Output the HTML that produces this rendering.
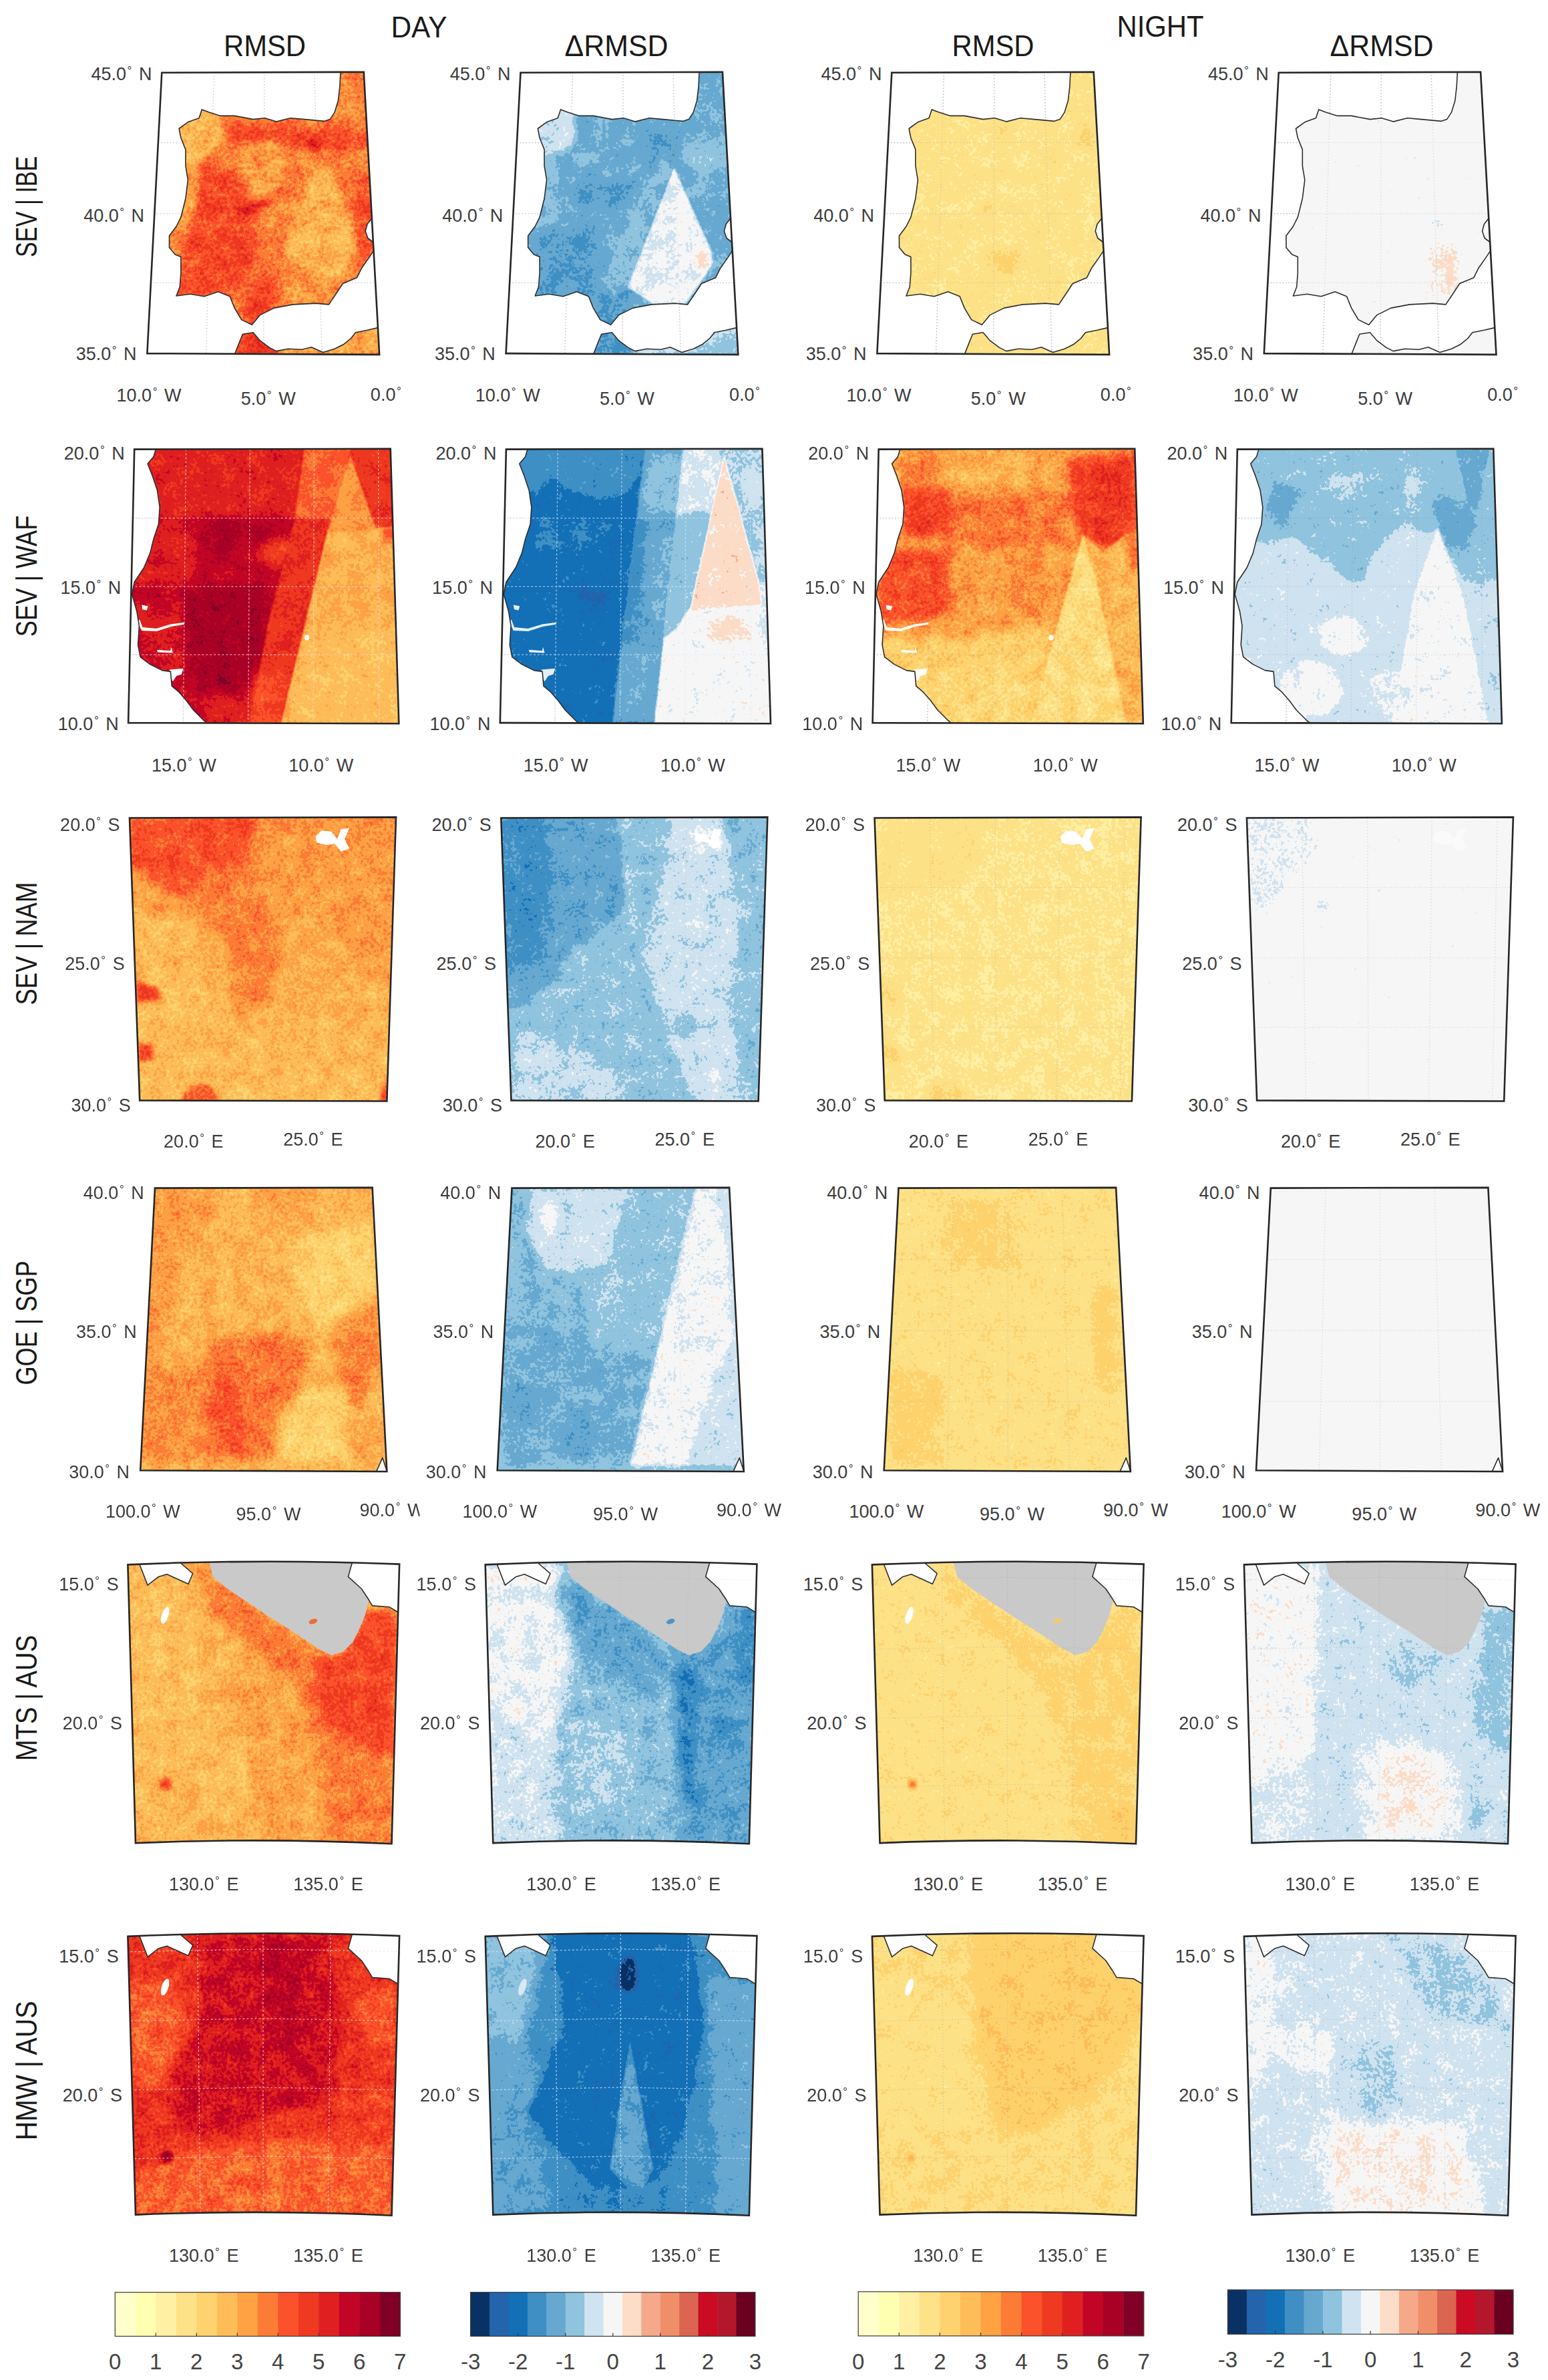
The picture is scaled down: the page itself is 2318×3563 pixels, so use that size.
<!DOCTYPE html>
<html lang="en"><head><meta charset="utf-8"><title>RMSD maps</title>
<style>html,body{margin:0;padding:0;background:#fff}svg{display:block}text{font-family:"Liberation Sans",sans-serif}.tk{font-size:27px;fill:#3c3c3c}.tt{font-size:45px;fill:#1a1a1a}.cb{font-size:33px;fill:#444}</style></head><body>
<svg width="2318" height="3563" viewBox="0 0 2318 3563">
<defs>
<filter id="soft" x="-30%" y="-30%" width="160%" height="160%" color-interpolation-filters="sRGB"><feGaussianBlur stdDeviation="1.0"/></filter>
<filter id="mid" x="-30%" y="-30%" width="160%" height="160%" color-interpolation-filters="sRGB"><feGaussianBlur stdDeviation="3.5"/></filter>
<filter id="blob" x="-30%" y="-30%" width="160%" height="160%" color-interpolation-filters="sRGB"><feGaussianBlur stdDeviation="8.0"/></filter>
<filter id="big" x="-30%" y="-30%" width="160%" height="160%" color-interpolation-filters="sRGB"><feGaussianBlur stdDeviation="16.0"/></filter>
<filter id="cm11" x="0" y="0" width="100%" height="100%" color-interpolation-filters="sRGB"><feTurbulence type="fractalNoise" baseFrequency="0.04" numOctaves="4" seed="8" result="n"/><feColorMatrix in="n" type="matrix" values="1 0 0 0 0 1 0 0 0 0 1 0 0 0 0 0 0 0 0 1" result="g"/><feComposite in="SourceGraphic" in2="g" operator="arithmetic" k1="0" k2="1" k3="0.2" k4="-0.1" result="v"/><feTurbulence type="fractalNoise" baseFrequency="0.2" numOctaves="2" seed="48" result="n2"/><feColorMatrix in="n2" type="matrix" values="0 1 0 0 0 0 1 0 0 0 0 1 0 0 0 0 0 0 0 1" result="g2"/><feComposite in="v" in2="g2" operator="arithmetic" k1="0" k2="1" k3="0.26" k4="-0.13" result="w"/><feComponentTransfer in="w"><feFuncR type="discrete" tableValues="1.000 1.000 1.000 0.996 0.996 0.996 0.996 0.992 0.988 0.937 0.878 0.761 0.663 0.502"/><feFuncG type="discrete" tableValues="1.000 1.000 0.941 0.886 0.824 0.741 0.635 0.486 0.322 0.227 0.125 0.020 0.000 0.000"/><feFuncB type="discrete" tableValues="0.800 0.698 0.639 0.533 0.431 0.349 0.267 0.208 0.169 0.129 0.125 0.149 0.149 0.149"/></feComponentTransfer></filter>
<filter id="cm12" x="0" y="0" width="100%" height="100%" color-interpolation-filters="sRGB"><feTurbulence type="fractalNoise" baseFrequency="0.04" numOctaves="4" seed="9" result="n"/><feColorMatrix in="n" type="matrix" values="1 0 0 0 0 1 0 0 0 0 1 0 0 0 0 0 0 0 0 1" result="g"/><feComposite in="SourceGraphic" in2="g" operator="arithmetic" k1="0" k2="1" k3="0.11" k4="-0.055" result="v"/><feTurbulence type="fractalNoise" baseFrequency="0.2" numOctaves="2" seed="49" result="n2"/><feColorMatrix in="n2" type="matrix" values="0 1 0 0 0 0 1 0 0 0 0 1 0 0 0 0 0 0 0 1" result="g2"/><feComposite in="v" in2="g2" operator="arithmetic" k1="0" k2="1" k3="0.1" k4="-0.05" result="w"/><feComponentTransfer in="w"><feFuncR type="discrete" tableValues="0.039 0.141 0.075 0.247 0.400 0.561 0.812 0.965 0.992 0.961 0.945 0.859 0.796 0.706 0.416"/><feFuncG type="discrete" tableValues="0.192 0.392 0.439 0.561 0.659 0.765 0.890 0.965 0.863 0.663 0.557 0.396 0.043 0.090 0.004"/><feFuncB type="discrete" tableValues="0.388 0.675 0.714 0.769 0.816 0.871 0.941 0.965 0.784 0.541 0.416 0.318 0.137 0.173 0.129"/></feComponentTransfer></filter>
<filter id="cm13" x="0" y="0" width="100%" height="100%" color-interpolation-filters="sRGB"><feTurbulence type="fractalNoise" baseFrequency="0.04" numOctaves="4" seed="10" result="n"/><feColorMatrix in="n" type="matrix" values="1 0 0 0 0 1 0 0 0 0 1 0 0 0 0 0 0 0 0 1" result="g"/><feComposite in="SourceGraphic" in2="g" operator="arithmetic" k1="0" k2="1" k3="0.1" k4="-0.05" result="v"/><feTurbulence type="fractalNoise" baseFrequency="0.2" numOctaves="2" seed="50" result="n2"/><feColorMatrix in="n2" type="matrix" values="0 1 0 0 0 0 1 0 0 0 0 1 0 0 0 0 0 0 0 1" result="g2"/><feComposite in="v" in2="g2" operator="arithmetic" k1="0" k2="1" k3="0.12" k4="-0.06" result="w"/><feComponentTransfer in="w"><feFuncR type="discrete" tableValues="1.000 1.000 1.000 0.996 0.996 0.996 0.996 0.992 0.988 0.937 0.878 0.761 0.663 0.502"/><feFuncG type="discrete" tableValues="1.000 1.000 0.941 0.886 0.824 0.741 0.635 0.486 0.322 0.227 0.125 0.020 0.000 0.000"/><feFuncB type="discrete" tableValues="0.800 0.698 0.639 0.533 0.431 0.349 0.267 0.208 0.169 0.129 0.125 0.149 0.149 0.149"/></feComponentTransfer></filter>
<filter id="cm14" x="0" y="0" width="100%" height="100%" color-interpolation-filters="sRGB"><feTurbulence type="fractalNoise" baseFrequency="0.04" numOctaves="4" seed="11" result="n"/><feColorMatrix in="n" type="matrix" values="1 0 0 0 0 1 0 0 0 0 1 0 0 0 0 0 0 0 0 1" result="g"/><feComposite in="SourceGraphic" in2="g" operator="arithmetic" k1="0" k2="1" k3="0.04" k4="-0.02" result="v"/><feTurbulence type="fractalNoise" baseFrequency="0.2" numOctaves="2" seed="51" result="n2"/><feColorMatrix in="n2" type="matrix" values="0 1 0 0 0 0 1 0 0 0 0 1 0 0 0 0 0 0 0 1" result="g2"/><feComposite in="v" in2="g2" operator="arithmetic" k1="0" k2="1" k3="0.07" k4="-0.035" result="w"/><feComponentTransfer in="w"><feFuncR type="discrete" tableValues="0.039 0.141 0.075 0.247 0.400 0.561 0.812 0.965 0.992 0.961 0.945 0.859 0.796 0.706 0.416"/><feFuncG type="discrete" tableValues="0.192 0.392 0.439 0.561 0.659 0.765 0.890 0.965 0.863 0.663 0.557 0.396 0.043 0.090 0.004"/><feFuncB type="discrete" tableValues="0.388 0.675 0.714 0.769 0.816 0.871 0.941 0.965 0.784 0.541 0.416 0.318 0.137 0.173 0.129"/></feComponentTransfer></filter>
<filter id="cm21" x="0" y="0" width="100%" height="100%" color-interpolation-filters="sRGB"><feTurbulence type="fractalNoise" baseFrequency="0.04" numOctaves="4" seed="15" result="n"/><feColorMatrix in="n" type="matrix" values="1 0 0 0 0 1 0 0 0 0 1 0 0 0 0 0 0 0 0 1" result="g"/><feComposite in="SourceGraphic" in2="g" operator="arithmetic" k1="0" k2="1" k3="0.14" k4="-0.07" result="v"/><feTurbulence type="fractalNoise" baseFrequency="0.2" numOctaves="2" seed="55" result="n2"/><feColorMatrix in="n2" type="matrix" values="0 1 0 0 0 0 1 0 0 0 0 1 0 0 0 0 0 0 0 1" result="g2"/><feComposite in="v" in2="g2" operator="arithmetic" k1="0" k2="1" k3="0.16" k4="-0.08" result="w"/><feComponentTransfer in="w"><feFuncR type="discrete" tableValues="1.000 1.000 1.000 0.996 0.996 0.996 0.996 0.992 0.988 0.937 0.878 0.761 0.663 0.502"/><feFuncG type="discrete" tableValues="1.000 1.000 0.941 0.886 0.824 0.741 0.635 0.486 0.322 0.227 0.125 0.020 0.000 0.000"/><feFuncB type="discrete" tableValues="0.800 0.698 0.639 0.533 0.431 0.349 0.267 0.208 0.169 0.129 0.125 0.149 0.149 0.149"/></feComponentTransfer></filter>
<filter id="cm22" x="0" y="0" width="100%" height="100%" color-interpolation-filters="sRGB"><feTurbulence type="fractalNoise" baseFrequency="0.04" numOctaves="4" seed="16" result="n"/><feColorMatrix in="n" type="matrix" values="1 0 0 0 0 1 0 0 0 0 1 0 0 0 0 0 0 0 0 1" result="g"/><feComposite in="SourceGraphic" in2="g" operator="arithmetic" k1="0" k2="1" k3="0.09" k4="-0.045" result="v"/><feTurbulence type="fractalNoise" baseFrequency="0.2" numOctaves="2" seed="56" result="n2"/><feColorMatrix in="n2" type="matrix" values="0 1 0 0 0 0 1 0 0 0 0 1 0 0 0 0 0 0 0 1" result="g2"/><feComposite in="v" in2="g2" operator="arithmetic" k1="0" k2="1" k3="0.09" k4="-0.045" result="w"/><feComponentTransfer in="w"><feFuncR type="discrete" tableValues="0.039 0.141 0.075 0.247 0.400 0.561 0.812 0.965 0.992 0.961 0.945 0.859 0.796 0.706 0.416"/><feFuncG type="discrete" tableValues="0.192 0.392 0.439 0.561 0.659 0.765 0.890 0.965 0.863 0.663 0.557 0.396 0.043 0.090 0.004"/><feFuncB type="discrete" tableValues="0.388 0.675 0.714 0.769 0.816 0.871 0.941 0.965 0.784 0.541 0.416 0.318 0.137 0.173 0.129"/></feComponentTransfer></filter>
<filter id="cm23" x="0" y="0" width="100%" height="100%" color-interpolation-filters="sRGB"><feTurbulence type="fractalNoise" baseFrequency="0.04" numOctaves="4" seed="17" result="n"/><feColorMatrix in="n" type="matrix" values="1 0 0 0 0 1 0 0 0 0 1 0 0 0 0 0 0 0 0 1" result="g"/><feComposite in="SourceGraphic" in2="g" operator="arithmetic" k1="0" k2="1" k3="0.2" k4="-0.1" result="v"/><feTurbulence type="fractalNoise" baseFrequency="0.2" numOctaves="2" seed="57" result="n2"/><feColorMatrix in="n2" type="matrix" values="0 1 0 0 0 0 1 0 0 0 0 1 0 0 0 0 0 0 0 1" result="g2"/><feComposite in="v" in2="g2" operator="arithmetic" k1="0" k2="1" k3="0.24" k4="-0.12" result="w"/><feComponentTransfer in="w"><feFuncR type="discrete" tableValues="1.000 1.000 1.000 0.996 0.996 0.996 0.996 0.992 0.988 0.937 0.878 0.761 0.663 0.502"/><feFuncG type="discrete" tableValues="1.000 1.000 0.941 0.886 0.824 0.741 0.635 0.486 0.322 0.227 0.125 0.020 0.000 0.000"/><feFuncB type="discrete" tableValues="0.800 0.698 0.639 0.533 0.431 0.349 0.267 0.208 0.169 0.129 0.125 0.149 0.149 0.149"/></feComponentTransfer></filter>
<filter id="cm24" x="0" y="0" width="100%" height="100%" color-interpolation-filters="sRGB"><feTurbulence type="fractalNoise" baseFrequency="0.04" numOctaves="4" seed="18" result="n"/><feColorMatrix in="n" type="matrix" values="1 0 0 0 0 1 0 0 0 0 1 0 0 0 0 0 0 0 0 1" result="g"/><feComposite in="SourceGraphic" in2="g" operator="arithmetic" k1="0" k2="1" k3="0.09" k4="-0.045" result="v"/><feTurbulence type="fractalNoise" baseFrequency="0.2" numOctaves="2" seed="58" result="n2"/><feColorMatrix in="n2" type="matrix" values="0 1 0 0 0 0 1 0 0 0 0 1 0 0 0 0 0 0 0 1" result="g2"/><feComposite in="v" in2="g2" operator="arithmetic" k1="0" k2="1" k3="0.09" k4="-0.045" result="w"/><feComponentTransfer in="w"><feFuncR type="discrete" tableValues="0.039 0.141 0.075 0.247 0.400 0.561 0.812 0.965 0.992 0.961 0.945 0.859 0.796 0.706 0.416"/><feFuncG type="discrete" tableValues="0.192 0.392 0.439 0.561 0.659 0.765 0.890 0.965 0.863 0.663 0.557 0.396 0.043 0.090 0.004"/><feFuncB type="discrete" tableValues="0.388 0.675 0.714 0.769 0.816 0.871 0.941 0.965 0.784 0.541 0.416 0.318 0.137 0.173 0.129"/></feComponentTransfer></filter>
<filter id="cm31" x="0" y="0" width="100%" height="100%" color-interpolation-filters="sRGB"><feTurbulence type="fractalNoise" baseFrequency="0.04" numOctaves="4" seed="22" result="n"/><feColorMatrix in="n" type="matrix" values="1 0 0 0 0 1 0 0 0 0 1 0 0 0 0 0 0 0 0 1" result="g"/><feComposite in="SourceGraphic" in2="g" operator="arithmetic" k1="0" k2="1" k3="0.17" k4="-0.085" result="v"/><feTurbulence type="fractalNoise" baseFrequency="0.2" numOctaves="2" seed="62" result="n2"/><feColorMatrix in="n2" type="matrix" values="0 1 0 0 0 0 1 0 0 0 0 1 0 0 0 0 0 0 0 1" result="g2"/><feComposite in="v" in2="g2" operator="arithmetic" k1="0" k2="1" k3="0.22" k4="-0.11" result="w"/><feComponentTransfer in="w"><feFuncR type="discrete" tableValues="1.000 1.000 1.000 0.996 0.996 0.996 0.996 0.992 0.988 0.937 0.878 0.761 0.663 0.502"/><feFuncG type="discrete" tableValues="1.000 1.000 0.941 0.886 0.824 0.741 0.635 0.486 0.322 0.227 0.125 0.020 0.000 0.000"/><feFuncB type="discrete" tableValues="0.800 0.698 0.639 0.533 0.431 0.349 0.267 0.208 0.169 0.129 0.125 0.149 0.149 0.149"/></feComponentTransfer></filter>
<filter id="cm32" x="0" y="0" width="100%" height="100%" color-interpolation-filters="sRGB"><feTurbulence type="fractalNoise" baseFrequency="0.04" numOctaves="4" seed="23" result="n"/><feColorMatrix in="n" type="matrix" values="1 0 0 0 0 1 0 0 0 0 1 0 0 0 0 0 0 0 0 1" result="g"/><feComposite in="SourceGraphic" in2="g" operator="arithmetic" k1="0" k2="1" k3="0.12" k4="-0.06" result="v"/><feTurbulence type="fractalNoise" baseFrequency="0.2" numOctaves="2" seed="63" result="n2"/><feColorMatrix in="n2" type="matrix" values="0 1 0 0 0 0 1 0 0 0 0 1 0 0 0 0 0 0 0 1" result="g2"/><feComposite in="v" in2="g2" operator="arithmetic" k1="0" k2="1" k3="0.12" k4="-0.06" result="w"/><feComponentTransfer in="w"><feFuncR type="discrete" tableValues="0.039 0.141 0.075 0.247 0.400 0.561 0.812 0.965 0.992 0.961 0.945 0.859 0.796 0.706 0.416"/><feFuncG type="discrete" tableValues="0.192 0.392 0.439 0.561 0.659 0.765 0.890 0.965 0.863 0.663 0.557 0.396 0.043 0.090 0.004"/><feFuncB type="discrete" tableValues="0.388 0.675 0.714 0.769 0.816 0.871 0.941 0.965 0.784 0.541 0.416 0.318 0.137 0.173 0.129"/></feComponentTransfer></filter>
<filter id="cm33" x="0" y="0" width="100%" height="100%" color-interpolation-filters="sRGB"><feTurbulence type="fractalNoise" baseFrequency="0.04" numOctaves="4" seed="24" result="n"/><feColorMatrix in="n" type="matrix" values="1 0 0 0 0 1 0 0 0 0 1 0 0 0 0 0 0 0 0 1" result="g"/><feComposite in="SourceGraphic" in2="g" operator="arithmetic" k1="0" k2="1" k3="0.09" k4="-0.045" result="v"/><feTurbulence type="fractalNoise" baseFrequency="0.2" numOctaves="2" seed="64" result="n2"/><feColorMatrix in="n2" type="matrix" values="0 1 0 0 0 0 1 0 0 0 0 1 0 0 0 0 0 0 0 1" result="g2"/><feComposite in="v" in2="g2" operator="arithmetic" k1="0" k2="1" k3="0.12" k4="-0.06" result="w"/><feComponentTransfer in="w"><feFuncR type="discrete" tableValues="1.000 1.000 1.000 0.996 0.996 0.996 0.996 0.992 0.988 0.937 0.878 0.761 0.663 0.502"/><feFuncG type="discrete" tableValues="1.000 1.000 0.941 0.886 0.824 0.741 0.635 0.486 0.322 0.227 0.125 0.020 0.000 0.000"/><feFuncB type="discrete" tableValues="0.800 0.698 0.639 0.533 0.431 0.349 0.267 0.208 0.169 0.129 0.125 0.149 0.149 0.149"/></feComponentTransfer></filter>
<filter id="cm34" x="0" y="0" width="100%" height="100%" color-interpolation-filters="sRGB"><feTurbulence type="fractalNoise" baseFrequency="0.04" numOctaves="4" seed="25" result="n"/><feColorMatrix in="n" type="matrix" values="1 0 0 0 0 1 0 0 0 0 1 0 0 0 0 0 0 0 0 1" result="g"/><feComposite in="SourceGraphic" in2="g" operator="arithmetic" k1="0" k2="1" k3="0.04" k4="-0.02" result="v"/><feTurbulence type="fractalNoise" baseFrequency="0.2" numOctaves="2" seed="65" result="n2"/><feColorMatrix in="n2" type="matrix" values="0 1 0 0 0 0 1 0 0 0 0 1 0 0 0 0 0 0 0 1" result="g2"/><feComposite in="v" in2="g2" operator="arithmetic" k1="0" k2="1" k3="0.07" k4="-0.035" result="w"/><feComponentTransfer in="w"><feFuncR type="discrete" tableValues="0.039 0.141 0.075 0.247 0.400 0.561 0.812 0.965 0.992 0.961 0.945 0.859 0.796 0.706 0.416"/><feFuncG type="discrete" tableValues="0.192 0.392 0.439 0.561 0.659 0.765 0.890 0.965 0.863 0.663 0.557 0.396 0.043 0.090 0.004"/><feFuncB type="discrete" tableValues="0.388 0.675 0.714 0.769 0.816 0.871 0.941 0.965 0.784 0.541 0.416 0.318 0.137 0.173 0.129"/></feComponentTransfer></filter>
<filter id="cm41" x="0" y="0" width="100%" height="100%" color-interpolation-filters="sRGB"><feTurbulence type="fractalNoise" baseFrequency="0.04" numOctaves="4" seed="29" result="n"/><feColorMatrix in="n" type="matrix" values="1 0 0 0 0 1 0 0 0 0 1 0 0 0 0 0 0 0 0 1" result="g"/><feComposite in="SourceGraphic" in2="g" operator="arithmetic" k1="0" k2="1" k3="0.17" k4="-0.085" result="v"/><feTurbulence type="fractalNoise" baseFrequency="0.2" numOctaves="2" seed="69" result="n2"/><feColorMatrix in="n2" type="matrix" values="0 1 0 0 0 0 1 0 0 0 0 1 0 0 0 0 0 0 0 1" result="g2"/><feComposite in="v" in2="g2" operator="arithmetic" k1="0" k2="1" k3="0.24" k4="-0.12" result="w"/><feComponentTransfer in="w"><feFuncR type="discrete" tableValues="1.000 1.000 1.000 0.996 0.996 0.996 0.996 0.992 0.988 0.937 0.878 0.761 0.663 0.502"/><feFuncG type="discrete" tableValues="1.000 1.000 0.941 0.886 0.824 0.741 0.635 0.486 0.322 0.227 0.125 0.020 0.000 0.000"/><feFuncB type="discrete" tableValues="0.800 0.698 0.639 0.533 0.431 0.349 0.267 0.208 0.169 0.129 0.125 0.149 0.149 0.149"/></feComponentTransfer></filter>
<filter id="cm42" x="0" y="0" width="100%" height="100%" color-interpolation-filters="sRGB"><feTurbulence type="fractalNoise" baseFrequency="0.04" numOctaves="4" seed="30" result="n"/><feColorMatrix in="n" type="matrix" values="1 0 0 0 0 1 0 0 0 0 1 0 0 0 0 0 0 0 0 1" result="g"/><feComposite in="SourceGraphic" in2="g" operator="arithmetic" k1="0" k2="1" k3="0.11" k4="-0.055" result="v"/><feTurbulence type="fractalNoise" baseFrequency="0.2" numOctaves="2" seed="70" result="n2"/><feColorMatrix in="n2" type="matrix" values="0 1 0 0 0 0 1 0 0 0 0 1 0 0 0 0 0 0 0 1" result="g2"/><feComposite in="v" in2="g2" operator="arithmetic" k1="0" k2="1" k3="0.12" k4="-0.06" result="w"/><feComponentTransfer in="w"><feFuncR type="discrete" tableValues="0.039 0.141 0.075 0.247 0.400 0.561 0.812 0.965 0.992 0.961 0.945 0.859 0.796 0.706 0.416"/><feFuncG type="discrete" tableValues="0.192 0.392 0.439 0.561 0.659 0.765 0.890 0.965 0.863 0.663 0.557 0.396 0.043 0.090 0.004"/><feFuncB type="discrete" tableValues="0.388 0.675 0.714 0.769 0.816 0.871 0.941 0.965 0.784 0.541 0.416 0.318 0.137 0.173 0.129"/></feComponentTransfer></filter>
<filter id="cm43" x="0" y="0" width="100%" height="100%" color-interpolation-filters="sRGB"><feTurbulence type="fractalNoise" baseFrequency="0.04" numOctaves="4" seed="31" result="n"/><feColorMatrix in="n" type="matrix" values="1 0 0 0 0 1 0 0 0 0 1 0 0 0 0 0 0 0 0 1" result="g"/><feComposite in="SourceGraphic" in2="g" operator="arithmetic" k1="0" k2="1" k3="0.1" k4="-0.05" result="v"/><feTurbulence type="fractalNoise" baseFrequency="0.2" numOctaves="2" seed="71" result="n2"/><feColorMatrix in="n2" type="matrix" values="0 1 0 0 0 0 1 0 0 0 0 1 0 0 0 0 0 0 0 1" result="g2"/><feComposite in="v" in2="g2" operator="arithmetic" k1="0" k2="1" k3="0.13" k4="-0.065" result="w"/><feComponentTransfer in="w"><feFuncR type="discrete" tableValues="1.000 1.000 1.000 0.996 0.996 0.996 0.996 0.992 0.988 0.937 0.878 0.761 0.663 0.502"/><feFuncG type="discrete" tableValues="1.000 1.000 0.941 0.886 0.824 0.741 0.635 0.486 0.322 0.227 0.125 0.020 0.000 0.000"/><feFuncB type="discrete" tableValues="0.800 0.698 0.639 0.533 0.431 0.349 0.267 0.208 0.169 0.129 0.125 0.149 0.149 0.149"/></feComponentTransfer></filter>
<filter id="cm44" x="0" y="0" width="100%" height="100%" color-interpolation-filters="sRGB"><feTurbulence type="fractalNoise" baseFrequency="0.04" numOctaves="4" seed="32" result="n"/><feColorMatrix in="n" type="matrix" values="1 0 0 0 0 1 0 0 0 0 1 0 0 0 0 0 0 0 0 1" result="g"/><feComposite in="SourceGraphic" in2="g" operator="arithmetic" k1="0" k2="1" k3="0.03" k4="-0.015" result="v"/><feTurbulence type="fractalNoise" baseFrequency="0.2" numOctaves="2" seed="72" result="n2"/><feColorMatrix in="n2" type="matrix" values="0 1 0 0 0 0 1 0 0 0 0 1 0 0 0 0 0 0 0 1" result="g2"/><feComposite in="v" in2="g2" operator="arithmetic" k1="0" k2="1" k3="0.05" k4="-0.025" result="w"/><feComponentTransfer in="w"><feFuncR type="discrete" tableValues="0.039 0.141 0.075 0.247 0.400 0.561 0.812 0.965 0.992 0.961 0.945 0.859 0.796 0.706 0.416"/><feFuncG type="discrete" tableValues="0.192 0.392 0.439 0.561 0.659 0.765 0.890 0.965 0.863 0.663 0.557 0.396 0.043 0.090 0.004"/><feFuncB type="discrete" tableValues="0.388 0.675 0.714 0.769 0.816 0.871 0.941 0.965 0.784 0.541 0.416 0.318 0.137 0.173 0.129"/></feComponentTransfer></filter>
<filter id="cm51" x="0" y="0" width="100%" height="100%" color-interpolation-filters="sRGB"><feTurbulence type="fractalNoise" baseFrequency="0.04" numOctaves="4" seed="36" result="n"/><feColorMatrix in="n" type="matrix" values="1 0 0 0 0 1 0 0 0 0 1 0 0 0 0 0 0 0 0 1" result="g"/><feComposite in="SourceGraphic" in2="g" operator="arithmetic" k1="0" k2="1" k3="0.18" k4="-0.09" result="v"/><feTurbulence type="fractalNoise" baseFrequency="0.2" numOctaves="2" seed="76" result="n2"/><feColorMatrix in="n2" type="matrix" values="0 1 0 0 0 0 1 0 0 0 0 1 0 0 0 0 0 0 0 1" result="g2"/><feComposite in="v" in2="g2" operator="arithmetic" k1="0" k2="1" k3="0.22" k4="-0.11" result="w"/><feComponentTransfer in="w"><feFuncR type="discrete" tableValues="1.000 1.000 1.000 0.996 0.996 0.996 0.996 0.992 0.988 0.937 0.878 0.761 0.663 0.502"/><feFuncG type="discrete" tableValues="1.000 1.000 0.941 0.886 0.824 0.741 0.635 0.486 0.322 0.227 0.125 0.020 0.000 0.000"/><feFuncB type="discrete" tableValues="0.800 0.698 0.639 0.533 0.431 0.349 0.267 0.208 0.169 0.129 0.125 0.149 0.149 0.149"/></feComponentTransfer></filter>
<filter id="cm52" x="0" y="0" width="100%" height="100%" color-interpolation-filters="sRGB"><feTurbulence type="fractalNoise" baseFrequency="0.04" numOctaves="4" seed="37" result="n"/><feColorMatrix in="n" type="matrix" values="1 0 0 0 0 1 0 0 0 0 1 0 0 0 0 0 0 0 0 1" result="g"/><feComposite in="SourceGraphic" in2="g" operator="arithmetic" k1="0" k2="1" k3="0.14" k4="-0.07" result="v"/><feTurbulence type="fractalNoise" baseFrequency="0.2" numOctaves="2" seed="77" result="n2"/><feColorMatrix in="n2" type="matrix" values="0 1 0 0 0 0 1 0 0 0 0 1 0 0 0 0 0 0 0 1" result="g2"/><feComposite in="v" in2="g2" operator="arithmetic" k1="0" k2="1" k3="0.15" k4="-0.075" result="w"/><feComponentTransfer in="w"><feFuncR type="discrete" tableValues="0.039 0.141 0.075 0.247 0.400 0.561 0.812 0.965 0.992 0.961 0.945 0.859 0.796 0.706 0.416"/><feFuncG type="discrete" tableValues="0.192 0.392 0.439 0.561 0.659 0.765 0.890 0.965 0.863 0.663 0.557 0.396 0.043 0.090 0.004"/><feFuncB type="discrete" tableValues="0.388 0.675 0.714 0.769 0.816 0.871 0.941 0.965 0.784 0.541 0.416 0.318 0.137 0.173 0.129"/></feComponentTransfer></filter>
<filter id="cm53" x="0" y="0" width="100%" height="100%" color-interpolation-filters="sRGB"><feTurbulence type="fractalNoise" baseFrequency="0.04" numOctaves="4" seed="38" result="n"/><feColorMatrix in="n" type="matrix" values="1 0 0 0 0 1 0 0 0 0 1 0 0 0 0 0 0 0 0 1" result="g"/><feComposite in="SourceGraphic" in2="g" operator="arithmetic" k1="0" k2="1" k3="0.1" k4="-0.05" result="v"/><feTurbulence type="fractalNoise" baseFrequency="0.2" numOctaves="2" seed="78" result="n2"/><feColorMatrix in="n2" type="matrix" values="0 1 0 0 0 0 1 0 0 0 0 1 0 0 0 0 0 0 0 1" result="g2"/><feComposite in="v" in2="g2" operator="arithmetic" k1="0" k2="1" k3="0.12" k4="-0.06" result="w"/><feComponentTransfer in="w"><feFuncR type="discrete" tableValues="1.000 1.000 1.000 0.996 0.996 0.996 0.996 0.992 0.988 0.937 0.878 0.761 0.663 0.502"/><feFuncG type="discrete" tableValues="1.000 1.000 0.941 0.886 0.824 0.741 0.635 0.486 0.322 0.227 0.125 0.020 0.000 0.000"/><feFuncB type="discrete" tableValues="0.800 0.698 0.639 0.533 0.431 0.349 0.267 0.208 0.169 0.129 0.125 0.149 0.149 0.149"/></feComponentTransfer></filter>
<filter id="cm54" x="0" y="0" width="100%" height="100%" color-interpolation-filters="sRGB"><feTurbulence type="fractalNoise" baseFrequency="0.04" numOctaves="4" seed="39" result="n"/><feColorMatrix in="n" type="matrix" values="1 0 0 0 0 1 0 0 0 0 1 0 0 0 0 0 0 0 0 1" result="g"/><feComposite in="SourceGraphic" in2="g" operator="arithmetic" k1="0" k2="1" k3="0.1" k4="-0.05" result="v"/><feTurbulence type="fractalNoise" baseFrequency="0.2" numOctaves="2" seed="79" result="n2"/><feColorMatrix in="n2" type="matrix" values="0 1 0 0 0 0 1 0 0 0 0 1 0 0 0 0 0 0 0 1" result="g2"/><feComposite in="v" in2="g2" operator="arithmetic" k1="0" k2="1" k3="0.12" k4="-0.06" result="w"/><feComponentTransfer in="w"><feFuncR type="discrete" tableValues="0.039 0.141 0.075 0.247 0.400 0.561 0.812 0.965 0.992 0.961 0.945 0.859 0.796 0.706 0.416"/><feFuncG type="discrete" tableValues="0.192 0.392 0.439 0.561 0.659 0.765 0.890 0.965 0.863 0.663 0.557 0.396 0.043 0.090 0.004"/><feFuncB type="discrete" tableValues="0.388 0.675 0.714 0.769 0.816 0.871 0.941 0.965 0.784 0.541 0.416 0.318 0.137 0.173 0.129"/></feComponentTransfer></filter>
<filter id="cm61" x="0" y="0" width="100%" height="100%" color-interpolation-filters="sRGB"><feTurbulence type="fractalNoise" baseFrequency="0.04" numOctaves="4" seed="43" result="n"/><feColorMatrix in="n" type="matrix" values="1 0 0 0 0 1 0 0 0 0 1 0 0 0 0 0 0 0 0 1" result="g"/><feComposite in="SourceGraphic" in2="g" operator="arithmetic" k1="0" k2="1" k3="0.2" k4="-0.1" result="v"/><feTurbulence type="fractalNoise" baseFrequency="0.2" numOctaves="2" seed="83" result="n2"/><feColorMatrix in="n2" type="matrix" values="0 1 0 0 0 0 1 0 0 0 0 1 0 0 0 0 0 0 0 1" result="g2"/><feComposite in="v" in2="g2" operator="arithmetic" k1="0" k2="1" k3="0.26" k4="-0.13" result="w"/><feComponentTransfer in="w"><feFuncR type="discrete" tableValues="1.000 1.000 1.000 0.996 0.996 0.996 0.996 0.992 0.988 0.937 0.878 0.761 0.663 0.502"/><feFuncG type="discrete" tableValues="1.000 1.000 0.941 0.886 0.824 0.741 0.635 0.486 0.322 0.227 0.125 0.020 0.000 0.000"/><feFuncB type="discrete" tableValues="0.800 0.698 0.639 0.533 0.431 0.349 0.267 0.208 0.169 0.129 0.125 0.149 0.149 0.149"/></feComponentTransfer></filter>
<filter id="cm62" x="0" y="0" width="100%" height="100%" color-interpolation-filters="sRGB"><feTurbulence type="fractalNoise" baseFrequency="0.04" numOctaves="4" seed="44" result="n"/><feColorMatrix in="n" type="matrix" values="1 0 0 0 0 1 0 0 0 0 1 0 0 0 0 0 0 0 0 1" result="g"/><feComposite in="SourceGraphic" in2="g" operator="arithmetic" k1="0" k2="1" k3="0.1" k4="-0.05" result="v"/><feTurbulence type="fractalNoise" baseFrequency="0.2" numOctaves="2" seed="84" result="n2"/><feColorMatrix in="n2" type="matrix" values="0 1 0 0 0 0 1 0 0 0 0 1 0 0 0 0 0 0 0 1" result="g2"/><feComposite in="v" in2="g2" operator="arithmetic" k1="0" k2="1" k3="0.1" k4="-0.05" result="w"/><feComponentTransfer in="w"><feFuncR type="discrete" tableValues="0.039 0.141 0.075 0.247 0.400 0.561 0.812 0.965 0.992 0.961 0.945 0.859 0.796 0.706 0.416"/><feFuncG type="discrete" tableValues="0.192 0.392 0.439 0.561 0.659 0.765 0.890 0.965 0.863 0.663 0.557 0.396 0.043 0.090 0.004"/><feFuncB type="discrete" tableValues="0.388 0.675 0.714 0.769 0.816 0.871 0.941 0.965 0.784 0.541 0.416 0.318 0.137 0.173 0.129"/></feComponentTransfer></filter>
<filter id="cm63" x="0" y="0" width="100%" height="100%" color-interpolation-filters="sRGB"><feTurbulence type="fractalNoise" baseFrequency="0.04" numOctaves="4" seed="45" result="n"/><feColorMatrix in="n" type="matrix" values="1 0 0 0 0 1 0 0 0 0 1 0 0 0 0 0 0 0 0 1" result="g"/><feComposite in="SourceGraphic" in2="g" operator="arithmetic" k1="0" k2="1" k3="0.1" k4="-0.05" result="v"/><feTurbulence type="fractalNoise" baseFrequency="0.2" numOctaves="2" seed="85" result="n2"/><feColorMatrix in="n2" type="matrix" values="0 1 0 0 0 0 1 0 0 0 0 1 0 0 0 0 0 0 0 1" result="g2"/><feComposite in="v" in2="g2" operator="arithmetic" k1="0" k2="1" k3="0.12" k4="-0.06" result="w"/><feComponentTransfer in="w"><feFuncR type="discrete" tableValues="1.000 1.000 1.000 0.996 0.996 0.996 0.996 0.992 0.988 0.937 0.878 0.761 0.663 0.502"/><feFuncG type="discrete" tableValues="1.000 1.000 0.941 0.886 0.824 0.741 0.635 0.486 0.322 0.227 0.125 0.020 0.000 0.000"/><feFuncB type="discrete" tableValues="0.800 0.698 0.639 0.533 0.431 0.349 0.267 0.208 0.169 0.129 0.125 0.149 0.149 0.149"/></feComponentTransfer></filter>
<filter id="cm64" x="0" y="0" width="100%" height="100%" color-interpolation-filters="sRGB"><feTurbulence type="fractalNoise" baseFrequency="0.04" numOctaves="4" seed="46" result="n"/><feColorMatrix in="n" type="matrix" values="1 0 0 0 0 1 0 0 0 0 1 0 0 0 0 0 0 0 0 1" result="g"/><feComposite in="SourceGraphic" in2="g" operator="arithmetic" k1="0" k2="1" k3="0.1" k4="-0.05" result="v"/><feTurbulence type="fractalNoise" baseFrequency="0.2" numOctaves="2" seed="86" result="n2"/><feColorMatrix in="n2" type="matrix" values="0 1 0 0 0 0 1 0 0 0 0 1 0 0 0 0 0 0 0 1" result="g2"/><feComposite in="v" in2="g2" operator="arithmetic" k1="0" k2="1" k3="0.12" k4="-0.06" result="w"/><feComponentTransfer in="w"><feFuncR type="discrete" tableValues="0.039 0.141 0.075 0.247 0.400 0.561 0.812 0.965 0.992 0.961 0.945 0.859 0.796 0.706 0.416"/><feFuncG type="discrete" tableValues="0.192 0.392 0.439 0.561 0.659 0.765 0.890 0.965 0.863 0.663 0.557 0.396 0.043 0.090 0.004"/><feFuncB type="discrete" tableValues="0.388 0.675 0.714 0.769 0.816 0.871 0.941 0.965 0.784 0.541 0.416 0.318 0.137 0.173 0.129"/></feComponentTransfer></filter>
</defs>
<rect width="2318" height="3563" fill="#fff"/>
<text x="627.5" y="55.8" class="tt" text-anchor="middle" textLength="84" lengthAdjust="spacingAndGlyphs">DAY</text>
<text x="1737.5" y="54.5" class="tt" text-anchor="middle" textLength="130" lengthAdjust="spacingAndGlyphs">NIGHT</text>
<text x="396.5" y="84.2" class="tt" text-anchor="middle" textLength="123" lengthAdjust="spacingAndGlyphs">RMSD</text>
<text x="923" y="84.2" class="tt" text-anchor="middle" textLength="155" lengthAdjust="spacingAndGlyphs">ΔRMSD</text>
<text x="1487" y="84.2" class="tt" text-anchor="middle" textLength="123" lengthAdjust="spacingAndGlyphs">RMSD</text>
<text x="2069" y="84.2" class="tt" text-anchor="middle" textLength="155" lengthAdjust="spacingAndGlyphs">ΔRMSD</text>
<g transform="translate(0,0)">
<clipPath id="cf1"><path d="M242.3 108.8 L544.7 107.8 L568.1 530.9 L220.4 529.1Z"/></clipPath>
<clipPath id="cl1" clip-path="url(#cf1)"><path d="M302.3 163.9 L298.1 176.8 L281.4 182.8 L268.1 192.5 L270.9 206.5 L277.9 223.9 L277.9 248.4 L281.4 269.3 L277.9 297.2 L270.9 325.1 L264 339 L253.5 353 L253.5 370.4 L262.2 380.9 L270.9 384.4 L270.9 408.8 L269.2 429.7 L264 443 L284.9 440.2 L305.8 443.7 L326.7 436.7 L344.2 443.7 L351.2 461.1 L361.6 478.6 L377.3 486.2 L389.5 471.6 L410.5 461.1 L438.4 455.9 L473.2 454.1 L492.4 455.9 L502.9 440.2 L513.3 424.5 L534.3 415.8 L541.3 401.8 L553.5 384.4 L560.4 373.9 L563.9 373.9 L560.1 363.5 L550.7 356.5 L547.2 346 L550 335.5 L557.6 325.8 L563.9 325.1 L560.4 107.8 L509.9 108.5 L508.8 129.8 L506.4 150.7 L501.1 168.1 L494.2 178.6 L485.4 181.4 L455.8 178.6 L434.9 176.8 L413.9 182.1 L396.5 176.8 L379.1 178.6 L351.2 173.4 L330.2 173.4 L312.8 168.1 L302.3 163.9Z M351.2 530.9 L358.1 513.4 L363.4 500.2 L379.1 497.7 L389.5 509.9 L403.5 520.4 L413.9 525.6 L431.4 522.2 L452.3 523.2 L466.3 519.7 L483.7 527.4 L501.1 522.2 L515.1 515.2 L525.6 506.5 L532.5 497.7 L550 494.3 L566.7 490.4 L574.4 490.4 L574.4 534.4 L347.7 534.4Z"/></clipPath>
<g clip-path="url(#cf1)" stroke="#c4c4c4" stroke-width="1.3" stroke-dasharray="1.5 3" fill="none" opacity="1">
<path d="M320.5 108.8 L308.6 529.1"/>
<path d="M395.8 108.1 L394.8 529.8"/>
<path d="M470.8 108.1 L482 530.5"/>
<path d="M236.8 213.5 L550.7 213.5"/>
<path d="M231.2 319.9 L556.6 319.9"/>
<path d="M225.6 423.4 L562.2 423.4"/>
</g>
<g clip-path="url(#cl1)">
<g filter="url(#cm11)">
<rect x="218.4" y="99.8" width="351.8" height="435.1" fill="#858585"/>
<g filter="url(#blob)">
<polygon points="296.7,244.2 359.5,262.8 382.8,309.3 387.4,355.8 378.1,402.3 350.2,437.2 296.7,444.2 261.9,444.2 273.5,379.1 289.8,332.6" fill="#a2a2a2"/>
<polygon points="336.3,188.4 406,181.4 475.8,193 550.2,197.7 550.2,220.9 475.8,225.6 406,209.3 336.3,220.9" fill="#a4a4a4"/>
<polygon points="382.8,402.3 417.7,402.3 410.7,472.1 378.1,495.3 359.5,472.1" fill="#a4a4a4"/>
<polygon points="529.3,262.8 559.5,262.8 559.5,379.1 534,390.7" fill="#a0a0a0"/>
<polygon points="506,107 550.2,107 550.2,188.4 506,176.7" fill="#808080"/>
<polygon points="429.3,379.1 510.7,414 487.4,453.5 429.3,458.1" fill="#7c7c7c"/>
</g>
<g filter="url(#mid)">
<polygon points="359.5,314 396.7,297.7 406,304.7 368.8,323.3" fill="#bababa"/>
<polygon points="457.2,209.3 487.4,207 480.5,225.6 466.5,225.6" fill="#bdbdbd"/>
<polygon points="257.2,193 303.7,158.1 331.6,172.1 334,197.7 317.7,230.2 289.8,244.2 278.1,239.5 264.2,207" fill="#686868"/>
<polygon points="278.1,239.5 294.4,244.2 296.7,286 285.1,332.6 261.9,346.5 247.9,369.8 264.2,332.6" fill="#787878"/>
<polygon points="364.2,220.9 406,209.3 429.3,239.5 415.3,286 382.8,290.7 364.2,262.8" fill="#757575"/>
<polygon points="471.2,251.2 489.8,248.8 522.3,320.9 534,379.1 510.7,414 464.2,402.3 429.3,379.1 434,344.2 452.6,309.3" fill="#6a6a6a"/>
<polygon points="417.7,516.3 510.7,500 568.8,486 568.8,530.2 417.7,530.2" fill="#717171"/>
<polygon points="350.2,530.2 361.9,495.3 382.8,495.3 417.7,516.3 417.7,530.2" fill="#afafaf"/>
</g>
</g>
</g>
<g clip-path="url(#cf1)" fill="none" stroke="#2e2e2e" stroke-width="1.6" stroke-linejoin="round">
<path d="M509.9 108.5 L508.8 129.8 L506.4 150.7 L501.1 168.1 L494.2 178.6 L485.4 181.4 L455.8 178.6 L434.9 176.8 L413.9 182.1 L396.5 176.8 L379.1 178.6 L351.2 173.4 L330.2 173.4 L312.8 168.1 L302.3 163.9 L298.1 176.8 L281.4 182.8 L268.1 192.5 L270.9 206.5 L277.9 223.9 L277.9 248.4 L281.4 269.3 L277.9 297.2 L270.9 325.1 L264 339 L253.5 353 L253.5 370.4 L262.2 380.9 L270.9 384.4 L270.9 408.8 L269.2 429.7 L264 443 L284.9 440.2 L305.8 443.7 L326.7 436.7 L344.2 443.7 L351.2 461.1 L361.6 478.6 L377.3 486.2 L389.5 471.6 L410.5 461.1 L438.4 455.9 L473.2 454.1 L492.4 455.9 L502.9 440.2 L513.3 424.5 L534.3 415.8 L541.3 401.8 L553.5 384.4 L560.4 373.9"/>
<path d="M560.1 363.5 L550.7 356.5 L547.2 346 L550 335.5 L557.6 325.8"/>
<path d="M351.2 530.9 L358.1 513.4 L363.4 500.2 L379.1 497.7 L389.5 509.9 L403.5 520.4 L413.9 525.6 L431.4 522.2 L452.3 523.2 L466.3 519.7 L483.7 527.4 L501.1 522.2 L515.1 515.2 L525.6 506.5 L532.5 497.7 L550 494.3 L566.7 490.4"/>
</g>
<path d="M242.3 108.8 L544.7 107.8 L568.1 530.9 L220.4 529.1Z" fill="none" stroke="#262626" stroke-width="2.6" stroke-linejoin="miter"/>
<text x="227.4" y="120.4" class="tk" text-anchor="end">45.0<tspan font-size="17" dy="-9" dx="1.5">°</tspan><tspan dy="9" dx="3"> N</tspan></text>
<text x="216" y="332.3" class="tk" text-anchor="end">40.0<tspan font-size="17" dy="-9" dx="1.5">°</tspan><tspan dy="9" dx="3"> N</tspan></text>
<text x="204.6" y="538.8" class="tk" text-anchor="end">35.0<tspan font-size="17" dy="-9" dx="1.5">°</tspan><tspan dy="9" dx="3"> N</tspan></text>
<text x="223" y="600.7" class="tk" text-anchor="middle">10.0<tspan font-size="17" dy="-9" dx="1.5">°</tspan><tspan dy="9" dx="3"> W</tspan></text>
<text x="401.7" y="605.5" class="tk" text-anchor="middle">5.0<tspan font-size="17" dy="-9" dx="1.5">°</tspan><tspan dy="9" dx="3"> W</tspan></text>
<text x="577.8" y="599.8" class="tk" text-anchor="middle">0.0<tspan font-size="17" dy="-9" dx="1.5">°</tspan></text>
</g>
<g transform="translate(537.2,0)">
<clipPath id="cf2"><path d="M242.3 108.8 L544.7 107.8 L568.1 530.9 L220.4 529.1Z"/></clipPath>
<clipPath id="cl2" clip-path="url(#cf2)"><path d="M302.3 163.9 L298.1 176.8 L281.4 182.8 L268.1 192.5 L270.9 206.5 L277.9 223.9 L277.9 248.4 L281.4 269.3 L277.9 297.2 L270.9 325.1 L264 339 L253.5 353 L253.5 370.4 L262.2 380.9 L270.9 384.4 L270.9 408.8 L269.2 429.7 L264 443 L284.9 440.2 L305.8 443.7 L326.7 436.7 L344.2 443.7 L351.2 461.1 L361.6 478.6 L377.3 486.2 L389.5 471.6 L410.5 461.1 L438.4 455.9 L473.2 454.1 L492.4 455.9 L502.9 440.2 L513.3 424.5 L534.3 415.8 L541.3 401.8 L553.5 384.4 L560.4 373.9 L563.9 373.9 L560.1 363.5 L550.7 356.5 L547.2 346 L550 335.5 L557.6 325.8 L563.9 325.1 L560.4 107.8 L509.9 108.5 L508.8 129.8 L506.4 150.7 L501.1 168.1 L494.2 178.6 L485.4 181.4 L455.8 178.6 L434.9 176.8 L413.9 182.1 L396.5 176.8 L379.1 178.6 L351.2 173.4 L330.2 173.4 L312.8 168.1 L302.3 163.9Z M351.2 530.9 L358.1 513.4 L363.4 500.2 L379.1 497.7 L389.5 509.9 L403.5 520.4 L413.9 525.6 L431.4 522.2 L452.3 523.2 L466.3 519.7 L483.7 527.4 L501.1 522.2 L515.1 515.2 L525.6 506.5 L532.5 497.7 L550 494.3 L566.7 490.4 L574.4 490.4 L574.4 534.4 L347.7 534.4Z"/></clipPath>
<g clip-path="url(#cf2)" stroke="#c4c4c4" stroke-width="1.3" stroke-dasharray="1.5 3" fill="none" opacity="1">
<path d="M320.5 108.8 L308.6 529.1"/>
<path d="M395.8 108.1 L394.8 529.8"/>
<path d="M470.8 108.1 L482 530.5"/>
<path d="M236.8 213.5 L550.7 213.5"/>
<path d="M231.2 319.9 L556.6 319.9"/>
<path d="M225.6 423.4 L562.2 423.4"/>
</g>
<g clip-path="url(#cl2)">
<g filter="url(#cm12)">
<rect x="218.4" y="99.8" width="351.8" height="435.1" fill="#515151"/>
<g filter="url(#blob)">
<polygon points="323.5,276.7 404.8,262.8 418.8,300 358.3,314 323.5,309.3" fill="#454545"/>
<polygon points="270,344.2 358.3,339.5 363,402.3 349,444.2 260.7,446.5" fill="#444444"/>
<polygon points="416.5,193 486.2,197.7 474.6,244.2 428.1,248.8" fill="#464646"/>
<polygon points="358.3,437.2 404.8,430.2 404.8,472.1 376.9,495.3 358.3,472.1" fill="#424242"/>
<polygon points="276.9,234.9 295.5,230.2 297.9,309.3 283.9,332.6 265.3,332.6" fill="#595959"/>
</g>
<g filter="url(#mid)">
<polygon points="256,193 302.5,158.1 322.3,169.8 324.6,197.7 321.1,216.3 288.6,236 276.9,231.4" fill="#6e6e6e"/>
</g>
<g filter="url(#soft)">
<polygon points="471.1,250 453.7,237.2 395.5,344.2 367.6,420.9 381.6,444.2 404.8,430.2 437.4,332.6" fill="#575757"/>
</g>
<g filter="url(#blob)">
<polygon points="486.2,211.6 551.4,211.6 551.4,262.8 516.5,267.4 493.2,244.2" fill="#5e5e5e"/>
</g>
<g filter="url(#soft)">
<polygon points="472.3,251.2 529.3,379.1 521.1,409.3 488.6,455.8 442.1,455.8 402.5,430.2" fill="#797979"/>
</g>
<g filter="url(#mid)">
<ellipse cx="515.3" cy="390.7" rx="14" ry="15.1" fill="#8c8c8c"/>
<polygon points="411.8,516.3 509.5,500 567.6,486 567.6,530.2 411.8,530.2" fill="#6e6e6e"/>
</g>
<g filter="url(#blob)">
<polygon points="511.8,509.3 567.6,495.3 567.6,530.2 511.8,530.2" fill="#595959" opacity="0.8"/>
</g>
<g filter="url(#mid)">
<polygon points="349,530.2 360.7,495.3 381.6,495.3 411.8,516.3 411.8,530.2" fill="#424242"/>
</g>
</g>
</g>
<g clip-path="url(#cf2)" stroke="#8a8f96" stroke-width="1.2" stroke-dasharray="1.5 3" fill="none" opacity="0.18">
<path d="M320.5 108.8 L308.6 529.1"/>
<path d="M395.8 108.1 L394.8 529.8"/>
<path d="M470.8 108.1 L482 530.5"/>
<path d="M236.8 213.5 L550.7 213.5"/>
<path d="M231.2 319.9 L556.6 319.9"/>
<path d="M225.6 423.4 L562.2 423.4"/>
</g>
<g clip-path="url(#cf2)" fill="none" stroke="#2e2e2e" stroke-width="1.6" stroke-linejoin="round">
<path d="M509.9 108.5 L508.8 129.8 L506.4 150.7 L501.1 168.1 L494.2 178.6 L485.4 181.4 L455.8 178.6 L434.9 176.8 L413.9 182.1 L396.5 176.8 L379.1 178.6 L351.2 173.4 L330.2 173.4 L312.8 168.1 L302.3 163.9 L298.1 176.8 L281.4 182.8 L268.1 192.5 L270.9 206.5 L277.9 223.9 L277.9 248.4 L281.4 269.3 L277.9 297.2 L270.9 325.1 L264 339 L253.5 353 L253.5 370.4 L262.2 380.9 L270.9 384.4 L270.9 408.8 L269.2 429.7 L264 443 L284.9 440.2 L305.8 443.7 L326.7 436.7 L344.2 443.7 L351.2 461.1 L361.6 478.6 L377.3 486.2 L389.5 471.6 L410.5 461.1 L438.4 455.9 L473.2 454.1 L492.4 455.9 L502.9 440.2 L513.3 424.5 L534.3 415.8 L541.3 401.8 L553.5 384.4 L560.4 373.9"/>
<path d="M560.1 363.5 L550.7 356.5 L547.2 346 L550 335.5 L557.6 325.8"/>
<path d="M351.2 530.9 L358.1 513.4 L363.4 500.2 L379.1 497.7 L389.5 509.9 L403.5 520.4 L413.9 525.6 L431.4 522.2 L452.3 523.2 L466.3 519.7 L483.7 527.4 L501.1 522.2 L515.1 515.2 L525.6 506.5 L532.5 497.7 L550 494.3 L566.7 490.4"/>
</g>
<path d="M242.3 108.8 L544.7 107.8 L568.1 530.9 L220.4 529.1Z" fill="none" stroke="#262626" stroke-width="2.6" stroke-linejoin="miter"/>
<text x="227.4" y="120.4" class="tk" text-anchor="end">45.0<tspan font-size="17" dy="-9" dx="1.5">°</tspan><tspan dy="9" dx="3"> N</tspan></text>
<text x="216" y="332.3" class="tk" text-anchor="end">40.0<tspan font-size="17" dy="-9" dx="1.5">°</tspan><tspan dy="9" dx="3"> N</tspan></text>
<text x="204.6" y="538.8" class="tk" text-anchor="end">35.0<tspan font-size="17" dy="-9" dx="1.5">°</tspan><tspan dy="9" dx="3"> N</tspan></text>
<text x="223" y="600.7" class="tk" text-anchor="middle">10.0<tspan font-size="17" dy="-9" dx="1.5">°</tspan><tspan dy="9" dx="3"> W</tspan></text>
<text x="401.7" y="605.5" class="tk" text-anchor="middle">5.0<tspan font-size="17" dy="-9" dx="1.5">°</tspan><tspan dy="9" dx="3"> W</tspan></text>
<text x="577.8" y="599.8" class="tk" text-anchor="middle">0.0<tspan font-size="17" dy="-9" dx="1.5">°</tspan></text>
</g>
<g transform="translate(1093,0)">
<clipPath id="cf3"><path d="M242.3 108.8 L544.7 107.8 L568.1 530.9 L220.4 529.1Z"/></clipPath>
<clipPath id="cl3" clip-path="url(#cf3)"><path d="M302.3 163.9 L298.1 176.8 L281.4 182.8 L268.1 192.5 L270.9 206.5 L277.9 223.9 L277.9 248.4 L281.4 269.3 L277.9 297.2 L270.9 325.1 L264 339 L253.5 353 L253.5 370.4 L262.2 380.9 L270.9 384.4 L270.9 408.8 L269.2 429.7 L264 443 L284.9 440.2 L305.8 443.7 L326.7 436.7 L344.2 443.7 L351.2 461.1 L361.6 478.6 L377.3 486.2 L389.5 471.6 L410.5 461.1 L438.4 455.9 L473.2 454.1 L492.4 455.9 L502.9 440.2 L513.3 424.5 L534.3 415.8 L541.3 401.8 L553.5 384.4 L560.4 373.9 L563.9 373.9 L560.1 363.5 L550.7 356.5 L547.2 346 L550 335.5 L557.6 325.8 L563.9 325.1 L560.4 107.8 L509.9 108.5 L508.8 129.8 L506.4 150.7 L501.1 168.1 L494.2 178.6 L485.4 181.4 L455.8 178.6 L434.9 176.8 L413.9 182.1 L396.5 176.8 L379.1 178.6 L351.2 173.4 L330.2 173.4 L312.8 168.1 L302.3 163.9Z M351.2 530.9 L358.1 513.4 L363.4 500.2 L379.1 497.7 L389.5 509.9 L403.5 520.4 L413.9 525.6 L431.4 522.2 L452.3 523.2 L466.3 519.7 L483.7 527.4 L501.1 522.2 L515.1 515.2 L525.6 506.5 L532.5 497.7 L550 494.3 L566.7 490.4 L574.4 490.4 L574.4 534.4 L347.7 534.4Z"/></clipPath>
<g clip-path="url(#cf3)" stroke="#c4c4c4" stroke-width="1.3" stroke-dasharray="1.5 3" fill="none" opacity="1">
<path d="M320.5 108.8 L308.6 529.1"/>
<path d="M395.8 108.1 L394.8 529.8"/>
<path d="M470.8 108.1 L482 530.5"/>
<path d="M236.8 213.5 L550.7 213.5"/>
<path d="M231.2 319.9 L556.6 319.9"/>
<path d="M225.6 423.4 L562.2 423.4"/>
</g>
<g clip-path="url(#cl3)">
<g filter="url(#cm13)">
<rect x="218.4" y="99.8" width="351.8" height="435.1" fill="#3c3c3c"/>
<g filter="url(#blob)">
<ellipse cx="413.9" cy="391.4" rx="31.4" ry="20.9" fill="#4b4b4b"/>
<ellipse cx="532.5" cy="206.5" rx="17.4" ry="14" fill="#4c4c4c"/>
<ellipse cx="396.5" cy="190.8" rx="17.4" ry="6.3" fill="#505050"/>
</g>
<g filter="url(#mid)">
<ellipse cx="386" cy="311.1" rx="8.7" ry="2.1" fill="#666666" transform="rotate(-15 386 311.1)"/>
</g>
</g>
</g>
<g clip-path="url(#cf3)" stroke="#8a8f96" stroke-width="1.2" stroke-dasharray="1.5 3" fill="none" opacity="0.3">
<path d="M320.5 108.8 L308.6 529.1"/>
<path d="M395.8 108.1 L394.8 529.8"/>
<path d="M470.8 108.1 L482 530.5"/>
<path d="M236.8 213.5 L550.7 213.5"/>
<path d="M231.2 319.9 L556.6 319.9"/>
<path d="M225.6 423.4 L562.2 423.4"/>
</g>
<g clip-path="url(#cf3)" fill="none" stroke="#2e2e2e" stroke-width="1.6" stroke-linejoin="round">
<path d="M509.9 108.5 L508.8 129.8 L506.4 150.7 L501.1 168.1 L494.2 178.6 L485.4 181.4 L455.8 178.6 L434.9 176.8 L413.9 182.1 L396.5 176.8 L379.1 178.6 L351.2 173.4 L330.2 173.4 L312.8 168.1 L302.3 163.9 L298.1 176.8 L281.4 182.8 L268.1 192.5 L270.9 206.5 L277.9 223.9 L277.9 248.4 L281.4 269.3 L277.9 297.2 L270.9 325.1 L264 339 L253.5 353 L253.5 370.4 L262.2 380.9 L270.9 384.4 L270.9 408.8 L269.2 429.7 L264 443 L284.9 440.2 L305.8 443.7 L326.7 436.7 L344.2 443.7 L351.2 461.1 L361.6 478.6 L377.3 486.2 L389.5 471.6 L410.5 461.1 L438.4 455.9 L473.2 454.1 L492.4 455.9 L502.9 440.2 L513.3 424.5 L534.3 415.8 L541.3 401.8 L553.5 384.4 L560.4 373.9"/>
<path d="M560.1 363.5 L550.7 356.5 L547.2 346 L550 335.5 L557.6 325.8"/>
<path d="M351.2 530.9 L358.1 513.4 L363.4 500.2 L379.1 497.7 L389.5 509.9 L403.5 520.4 L413.9 525.6 L431.4 522.2 L452.3 523.2 L466.3 519.7 L483.7 527.4 L501.1 522.2 L515.1 515.2 L525.6 506.5 L532.5 497.7 L550 494.3 L566.7 490.4"/>
</g>
<path d="M242.3 108.8 L544.7 107.8 L568.1 530.9 L220.4 529.1Z" fill="none" stroke="#262626" stroke-width="2.6" stroke-linejoin="miter"/>
<text x="227.4" y="120.4" class="tk" text-anchor="end">45.0<tspan font-size="17" dy="-9" dx="1.5">°</tspan><tspan dy="9" dx="3"> N</tspan></text>
<text x="216" y="332.3" class="tk" text-anchor="end">40.0<tspan font-size="17" dy="-9" dx="1.5">°</tspan><tspan dy="9" dx="3"> N</tspan></text>
<text x="204.6" y="538.8" class="tk" text-anchor="end">35.0<tspan font-size="17" dy="-9" dx="1.5">°</tspan><tspan dy="9" dx="3"> N</tspan></text>
<text x="223" y="600.7" class="tk" text-anchor="middle">10.0<tspan font-size="17" dy="-9" dx="1.5">°</tspan><tspan dy="9" dx="3"> W</tspan></text>
<text x="401.7" y="605.5" class="tk" text-anchor="middle">5.0<tspan font-size="17" dy="-9" dx="1.5">°</tspan><tspan dy="9" dx="3"> W</tspan></text>
<text x="577.8" y="599.8" class="tk" text-anchor="middle">0.0<tspan font-size="17" dy="-9" dx="1.5">°</tspan></text>
</g>
<g transform="translate(1672.4,0)">
<clipPath id="cf4"><path d="M242.3 108.8 L544.7 107.8 L568.1 530.9 L220.4 529.1Z"/></clipPath>
<clipPath id="cl4" clip-path="url(#cf4)"><path d="M302.3 163.9 L298.1 176.8 L281.4 182.8 L268.1 192.5 L270.9 206.5 L277.9 223.9 L277.9 248.4 L281.4 269.3 L277.9 297.2 L270.9 325.1 L264 339 L253.5 353 L253.5 370.4 L262.2 380.9 L270.9 384.4 L270.9 408.8 L269.2 429.7 L264 443 L284.9 440.2 L305.8 443.7 L326.7 436.7 L344.2 443.7 L351.2 461.1 L361.6 478.6 L377.3 486.2 L389.5 471.6 L410.5 461.1 L438.4 455.9 L473.2 454.1 L492.4 455.9 L502.9 440.2 L513.3 424.5 L534.3 415.8 L541.3 401.8 L553.5 384.4 L560.4 373.9 L563.9 373.9 L560.1 363.5 L550.7 356.5 L547.2 346 L550 335.5 L557.6 325.8 L563.9 325.1 L560.4 107.8 L509.9 108.5 L508.8 129.8 L506.4 150.7 L501.1 168.1 L494.2 178.6 L485.4 181.4 L455.8 178.6 L434.9 176.8 L413.9 182.1 L396.5 176.8 L379.1 178.6 L351.2 173.4 L330.2 173.4 L312.8 168.1 L302.3 163.9Z M351.2 530.9 L358.1 513.4 L363.4 500.2 L379.1 497.7 L389.5 509.9 L403.5 520.4 L413.9 525.6 L431.4 522.2 L452.3 523.2 L466.3 519.7 L483.7 527.4 L501.1 522.2 L515.1 515.2 L525.6 506.5 L532.5 497.7 L550 494.3 L566.7 490.4 L574.4 490.4 L574.4 534.4 L347.7 534.4Z"/></clipPath>
<g clip-path="url(#cf4)" stroke="#c4c4c4" stroke-width="1.3" stroke-dasharray="1.5 3" fill="none" opacity="1">
<path d="M320.5 108.8 L308.6 529.1"/>
<path d="M395.8 108.1 L394.8 529.8"/>
<path d="M470.8 108.1 L482 530.5"/>
<path d="M236.8 213.5 L550.7 213.5"/>
<path d="M231.2 319.9 L556.6 319.9"/>
<path d="M225.6 423.4 L562.2 423.4"/>
</g>
<g clip-path="url(#cl4)">
<g filter="url(#cm14)">
<rect x="218.4" y="99.8" width="351.8" height="435.1" fill="#808080"/>
<g filter="url(#blob)">
<ellipse cx="490.7" cy="401.8" rx="24.4" ry="45.3" fill="#888888"/>
</g>
<g filter="url(#mid)">
<ellipse cx="497.7" cy="412.3" rx="4.2" ry="14" fill="#939393"/>
</g>
<g filter="url(#blob)">
<ellipse cx="480.2" cy="339" rx="7.7" ry="14" fill="#747474"/>
</g>
</g>
</g>
<g clip-path="url(#cf4)" stroke="#8a8f96" stroke-width="1.2" stroke-dasharray="1.5 3" fill="none" opacity="0.3">
<path d="M320.5 108.8 L308.6 529.1"/>
<path d="M395.8 108.1 L394.8 529.8"/>
<path d="M470.8 108.1 L482 530.5"/>
<path d="M236.8 213.5 L550.7 213.5"/>
<path d="M231.2 319.9 L556.6 319.9"/>
<path d="M225.6 423.4 L562.2 423.4"/>
</g>
<g clip-path="url(#cf4)" fill="none" stroke="#2e2e2e" stroke-width="1.6" stroke-linejoin="round">
<path d="M509.9 108.5 L508.8 129.8 L506.4 150.7 L501.1 168.1 L494.2 178.6 L485.4 181.4 L455.8 178.6 L434.9 176.8 L413.9 182.1 L396.5 176.8 L379.1 178.6 L351.2 173.4 L330.2 173.4 L312.8 168.1 L302.3 163.9 L298.1 176.8 L281.4 182.8 L268.1 192.5 L270.9 206.5 L277.9 223.9 L277.9 248.4 L281.4 269.3 L277.9 297.2 L270.9 325.1 L264 339 L253.5 353 L253.5 370.4 L262.2 380.9 L270.9 384.4 L270.9 408.8 L269.2 429.7 L264 443 L284.9 440.2 L305.8 443.7 L326.7 436.7 L344.2 443.7 L351.2 461.1 L361.6 478.6 L377.3 486.2 L389.5 471.6 L410.5 461.1 L438.4 455.9 L473.2 454.1 L492.4 455.9 L502.9 440.2 L513.3 424.5 L534.3 415.8 L541.3 401.8 L553.5 384.4 L560.4 373.9"/>
<path d="M560.1 363.5 L550.7 356.5 L547.2 346 L550 335.5 L557.6 325.8"/>
<path d="M351.2 530.9 L358.1 513.4 L363.4 500.2 L379.1 497.7 L389.5 509.9 L403.5 520.4 L413.9 525.6 L431.4 522.2 L452.3 523.2 L466.3 519.7 L483.7 527.4 L501.1 522.2 L515.1 515.2 L525.6 506.5 L532.5 497.7 L550 494.3 L566.7 490.4"/>
</g>
<path d="M242.3 108.8 L544.7 107.8 L568.1 530.9 L220.4 529.1Z" fill="none" stroke="#262626" stroke-width="2.6" stroke-linejoin="miter"/>
<text x="227.4" y="120.4" class="tk" text-anchor="end">45.0<tspan font-size="17" dy="-9" dx="1.5">°</tspan><tspan dy="9" dx="3"> N</tspan></text>
<text x="216" y="332.3" class="tk" text-anchor="end">40.0<tspan font-size="17" dy="-9" dx="1.5">°</tspan><tspan dy="9" dx="3"> N</tspan></text>
<text x="204.6" y="538.8" class="tk" text-anchor="end">35.0<tspan font-size="17" dy="-9" dx="1.5">°</tspan><tspan dy="9" dx="3"> N</tspan></text>
<text x="223" y="600.7" class="tk" text-anchor="middle">10.0<tspan font-size="17" dy="-9" dx="1.5">°</tspan><tspan dy="9" dx="3"> W</tspan></text>
<text x="401.7" y="605.5" class="tk" text-anchor="middle">5.0<tspan font-size="17" dy="-9" dx="1.5">°</tspan><tspan dy="9" dx="3"> W</tspan></text>
<text x="577.8" y="599.8" class="tk" text-anchor="middle">0.0<tspan font-size="17" dy="-9" dx="1.5">°</tspan></text>
</g>
<g transform="translate(0,0)">
<clipPath id="cf5"><path d="M201.2 672.6 L584.7 671.8 L597.3 1083.2 L192.1 1082.1Z"/></clipPath>
<clipPath id="cl5" clip-path="url(#cf5)"><path d="M233.7 671.1 L230.1 683.4 L221.1 694.3 L228.3 712.4 L235.5 734.1 L239.2 759.4 L237.4 784.7 L230.1 806.4 L224.7 828.1 L215.6 849.8 L201.2 871.5 L197.6 889.6 L204.8 915 L208.4 936.7 L206.6 965.6 L210.2 983.7 L224.7 994.6 L242.8 1003.6 L255.4 1005.4 L257.3 1027.1 L268.1 1036.2 L279 1048.8 L289.8 1063.3 L304.3 1077.8 L312.2 1084.3 L608.2 1088.6 L608.2 668.9Z"/></clipPath>
<g clip-path="url(#cf5)" stroke="#c4c4c4" stroke-width="1.3" stroke-dasharray="1.5 3" fill="none" opacity="1">
<path d="M278.6 672.6 L274.3 1082.5"/>
<path d="M374.5 672.6 L371.6 1082.5"/>
<path d="M470.3 672.2 L469.3 1082.8"/>
<path d="M566.6 671.8 L567.7 1083.2"/>
<path d="M198.6 775.7 L588.3 775.7"/>
<path d="M196.5 878.1 L591.2 878.1"/>
<path d="M194.3 980.1 L594.4 980.1"/>
</g>
<g clip-path="url(#cl5)">
<g filter="url(#cm21)">
<rect x="190.1" y="663.8" width="409.2" height="423.4" fill="#d3d3d3"/>
<g filter="url(#mid)">
<polygon points="185,665.4 459,665.4 442.7,775.3 185,775.3" fill="#bdbdbd"/>
</g>
<g filter="url(#blob)">
<polygon points="277.2,877 402,877 396.6,958.4 374.9,1039.8 298.9,1045.2 277.2,985.6" fill="#e4e4e4"/>
<polygon points="298.9,776.7 429.2,776.7 415.6,811.9 374.9,801.1 336.9,833.6 298.9,822.8" fill="#e0e0e0"/>
<polygon points="195.9,776.7 277.2,782.1 298.9,833.6 277.2,874.3 195.9,877" fill="#c1c1c1"/>
<polygon points="195.9,904.2 274.5,904.2 274.5,1012.7 239.3,1012.7" fill="#c5c5c5"/>
<ellipse cx="421" cy="825.5" rx="29.8" ry="19" fill="#a4a4a4"/>
<polygon points="298.9,1039.8 374.9,1039.8 372.2,1088.6 315.2,1088.6" fill="#bdbdbd"/>
</g>
<g filter="url(#soft)">
<polygon points="510.6,665.4 594.7,665.4 594.7,798.4 488.9,798.4" fill="#b1b1b1"/>
<polygon points="456.3,665.4 527.4,665.4 497,779.4 441.4,775.3" fill="#929292"/>
<polygon points="441.4,775.3 497,775.3 492.9,798.4 421.6,1088.6 372.2,1088.6 402,931.3" fill="#b4b4b4"/>
</g>
<g filter="url(#blob)">
<polygon points="380.3,1012.7 429.2,999.1 420.5,1088.6 372.2,1088.6" fill="#999999" opacity="0.8"/>
</g>
<g filter="url(#soft)">
<polygon points="490.5,793.5 562.6,790.2 596,787 604.2,1088.6 419.4,1088.6" fill="#6d6d6d"/>
</g>
<g filter="url(#blob)">
<polygon points="467.1,958.4 600.1,931.3 604.2,1088.6 429.2,1088.6" fill="#5f5f5f" opacity="0.8"/>
</g>
<g filter="url(#soft)">
<polygon points="524.1,680.3 563.7,793.5 489.9,797.3" fill="#7c7c7c"/>
</g>
<g filter="url(#blob)">
<ellipse cx="583.8" cy="798.4" rx="10.9" ry="10.9" fill="#c8c8c8" opacity="0.8"/>
</g>
</g>
<polygon points="208.9,927.2 213.5,938.9 233.8,941.1 255.5,934.6 275.9,931.8 275.9,934.8 256.1,938.1 234.4,945.1 212.1,944 206.2,931.3" fill="#ffffff"/>
<polygon points="235.2,972.8 255,974.2 256.6,968.7 258.8,977.4 236,976.6" fill="#ffffff"/>
<polygon points="254.2,1002.4 274.5,1000.7 271.8,1009.4 264.2,1012.1 258.8,1020.3 255,1012.7" fill="#ffffff"/>
<polygon points="212.1,905.5 221.6,907.4 219.7,913.7 213.2,912.3" fill="#ffffff"/>
<ellipse cx="459.6" cy="954.6" rx="3.5" ry="4.1" fill="#ffffff"/>
</g>
<g clip-path="url(#cf5)" stroke="#ffd0d0" stroke-width="1.3" stroke-dasharray="3 3" fill="none" opacity="0.75">
<path d="M278.6 672.6 L274.3 1082.5"/>
<path d="M374.5 672.6 L371.6 1082.5"/>
<path d="M470.3 672.2 L469.3 1082.8"/>
<path d="M566.6 671.8 L567.7 1083.2"/>
<path d="M198.6 775.7 L588.3 775.7"/>
<path d="M196.5 878.1 L591.2 878.1"/>
<path d="M194.3 980.1 L594.4 980.1"/>
</g>
<g clip-path="url(#cf5)" fill="none" stroke="#2e2e2e" stroke-width="1.6" stroke-linejoin="round">
<path d="M233.7 671.1 L230.1 683.4 L221.1 694.3 L228.3 712.4 L235.5 734.1 L239.2 759.4 L237.4 784.7 L230.1 806.4 L224.7 828.1 L215.6 849.8 L201.2 871.5 L197.6 889.6 L204.8 915 L208.4 936.7 L206.6 965.6 L210.2 983.7 L224.7 994.6 L242.8 1003.6 L255.4 1005.4 L257.3 1027.1 L268.1 1036.2 L279 1048.8 L289.8 1063.3 L304.3 1077.8 L312.2 1084.3"/>
</g>
<path d="M201.2 672.6 L584.7 671.8 L597.3 1083.2 L192.1 1082.1Z" fill="none" stroke="#262626" stroke-width="2.6" stroke-linejoin="miter"/>
<text x="186.7" y="687.8" class="tk" text-anchor="end">20.0<tspan font-size="17" dy="-9" dx="1.5">°</tspan><tspan dy="9" dx="3"> N</tspan></text>
<text x="181.3" y="888.6" class="tk" text-anchor="end">15.0<tspan font-size="17" dy="-9" dx="1.5">°</tspan><tspan dy="9" dx="3"> N</tspan></text>
<text x="177.7" y="1093" class="tk" text-anchor="end">10.0<tspan font-size="17" dy="-9" dx="1.5">°</tspan><tspan dy="9" dx="3"> N</tspan></text>
<text x="275.4" y="1154.5" class="tk" text-anchor="middle">15.0<tspan font-size="17" dy="-9" dx="1.5">°</tspan><tspan dy="9" dx="3"> W</tspan></text>
<text x="480.7" y="1154.5" class="tk" text-anchor="middle">10.0<tspan font-size="17" dy="-9" dx="1.5">°</tspan><tspan dy="9" dx="3"> W</tspan></text>
</g>
<g transform="translate(556.7,0)">
<clipPath id="cf6"><path d="M201.2 672.6 L584.7 671.8 L597.3 1083.2 L192.1 1082.1Z"/></clipPath>
<clipPath id="cl6" clip-path="url(#cf6)"><path d="M233.7 671.1 L230.1 683.4 L221.1 694.3 L228.3 712.4 L235.5 734.1 L239.2 759.4 L237.4 784.7 L230.1 806.4 L224.7 828.1 L215.6 849.8 L201.2 871.5 L197.6 889.6 L204.8 915 L208.4 936.7 L206.6 965.6 L210.2 983.7 L224.7 994.6 L242.8 1003.6 L255.4 1005.4 L257.3 1027.1 L268.1 1036.2 L279 1048.8 L289.8 1063.3 L304.3 1077.8 L312.2 1084.3 L608.2 1088.6 L608.2 668.9Z"/></clipPath>
<g clip-path="url(#cf6)" stroke="#c4c4c4" stroke-width="1.3" stroke-dasharray="1.5 3" fill="none" opacity="1">
<path d="M278.6 672.6 L274.3 1082.5"/>
<path d="M374.5 672.6 L371.6 1082.5"/>
<path d="M470.3 672.2 L469.3 1082.8"/>
<path d="M566.6 671.8 L567.7 1083.2"/>
<path d="M198.6 775.7 L588.3 775.7"/>
<path d="M196.5 878.1 L591.2 878.1"/>
<path d="M194.3 980.1 L594.4 980.1"/>
</g>
<g clip-path="url(#cl6)">
<g filter="url(#cm22)">
<rect x="190.1" y="663.8" width="409.2" height="423.4" fill="#2a2a2a"/>
<g filter="url(#mid)">
<polygon points="184.3,665.4 410.9,665.4 401.4,706.1 390.5,727.8 371.5,746.8 336.3,744.1 306.4,738.7 273.9,717 238.6,738.7 184.3,741.4" fill="#3c3c3c"/>
</g>
<g filter="url(#blob)">
<polygon points="238.6,773.9 358,773.9 352.6,822.8 238.6,828.2" fill="#373737" opacity="0.55"/>
<ellipse cx="336.3" cy="893.3" rx="24.4" ry="19" fill="#202020"/>
</g>
<g filter="url(#soft)">
<polygon points="409.5,665.4 467.9,665.4 422.5,1088.6 359.6,1088.6" fill="#484848"/>
</g>
<g filter="url(#blob)">
<polygon points="415,676.3 463.8,676.3 452.9,768.5 406.8,773.9" fill="#5b5b5b"/>
<polygon points="394.6,782.1 415,782.1 390.5,958.4 374.3,958.4" fill="#393939"/>
<polygon points="428.5,795.6 452.9,795.6 436.7,931.3 415,931.3" fill="#575757"/>
<polygon points="374.3,972 428.5,972 420.4,1066.9 368.8,1066.9" fill="#555555" opacity="0.7"/>
</g>
<g filter="url(#soft)">
<polygon points="466.5,665.4 537,665.4 485.5,915 455.6,958.4 435.3,958.4" fill="#5e5e5e"/>
</g>
<g filter="url(#mid)">
<polygon points="467.9,665.4 534.3,665.4 512.6,763.1 455.6,768.5" fill="#757575"/>
</g>
<g filter="url(#soft)">
<polygon points="436.7,955.7 455.6,942.1 476,909.6 607.6,901.5 607.6,1094.1 421.5,1094.1" fill="#7e7e7e"/>
<polygon points="518,665.4 596.7,665.4 596.7,909.6 564.2,904.2" fill="#646464"/>
</g>
<g filter="url(#blob)">
<ellipse cx="572.3" cy="727.8" rx="12.2" ry="29.8" fill="#737373"/>
</g>
<g filter="url(#mid)">
<polygon points="580.4,871.6 596.7,871.6 599.4,985.6 583.2,958.4" fill="#777777"/>
</g>
<g filter="url(#soft)">
<polygon points="527.5,681.7 579.1,868.9 583.2,905.5 476.8,914.5" fill="#8f8f8f"/>
</g>
<g filter="url(#blob)">
<ellipse cx="531.6" cy="942.1" rx="32.6" ry="19" fill="#8d8d8d"/>
</g>
</g>
<polygon points="208.9,927.2 213.5,938.9 233.8,941.1 255.5,934.6 275.9,931.8 275.9,934.8 256.1,938.1 234.4,945.1 212.1,944 206.2,931.3" fill="#e3f0fa"/>
<polygon points="235.2,972.8 255,974.2 256.6,968.7 258.8,977.4 236,976.6" fill="#e3f0fa"/>
<polygon points="254.2,1002.4 274.5,1000.7 271.8,1009.4 264.2,1012.1 258.8,1020.3 255,1012.7" fill="#e3f0fa"/>
<polygon points="212.1,905.5 221.6,907.4 219.7,913.7 213.2,912.3" fill="#e3f0fa"/>
</g>
<g clip-path="url(#cf6)" stroke="#d8ecff" stroke-width="1.3" stroke-dasharray="3 3" fill="none" opacity="0.7">
<path d="M278.6 672.6 L274.3 1082.5"/>
<path d="M374.5 672.6 L371.6 1082.5"/>
<path d="M470.3 672.2 L469.3 1082.8"/>
<path d="M566.6 671.8 L567.7 1083.2"/>
<path d="M198.6 775.7 L588.3 775.7"/>
<path d="M196.5 878.1 L591.2 878.1"/>
<path d="M194.3 980.1 L594.4 980.1"/>
</g>
<g clip-path="url(#cf6)" fill="none" stroke="#2e2e2e" stroke-width="1.6" stroke-linejoin="round">
<path d="M233.7 671.1 L230.1 683.4 L221.1 694.3 L228.3 712.4 L235.5 734.1 L239.2 759.4 L237.4 784.7 L230.1 806.4 L224.7 828.1 L215.6 849.8 L201.2 871.5 L197.6 889.6 L204.8 915 L208.4 936.7 L206.6 965.6 L210.2 983.7 L224.7 994.6 L242.8 1003.6 L255.4 1005.4 L257.3 1027.1 L268.1 1036.2 L279 1048.8 L289.8 1063.3 L304.3 1077.8 L312.2 1084.3"/>
</g>
<path d="M201.2 672.6 L584.7 671.8 L597.3 1083.2 L192.1 1082.1Z" fill="none" stroke="#262626" stroke-width="2.6" stroke-linejoin="miter"/>
<text x="186.7" y="687.8" class="tk" text-anchor="end">20.0<tspan font-size="17" dy="-9" dx="1.5">°</tspan><tspan dy="9" dx="3"> N</tspan></text>
<text x="181.3" y="888.6" class="tk" text-anchor="end">15.0<tspan font-size="17" dy="-9" dx="1.5">°</tspan><tspan dy="9" dx="3"> N</tspan></text>
<text x="177.7" y="1093" class="tk" text-anchor="end">10.0<tspan font-size="17" dy="-9" dx="1.5">°</tspan><tspan dy="9" dx="3"> N</tspan></text>
<text x="275.4" y="1154.5" class="tk" text-anchor="middle">15.0<tspan font-size="17" dy="-9" dx="1.5">°</tspan><tspan dy="9" dx="3"> W</tspan></text>
<text x="480.7" y="1154.5" class="tk" text-anchor="middle">10.0<tspan font-size="17" dy="-9" dx="1.5">°</tspan><tspan dy="9" dx="3"> W</tspan></text>
</g>
<g transform="translate(1114.5,0)">
<clipPath id="cf7"><path d="M201.2 672.6 L584.7 671.8 L597.3 1083.2 L192.1 1082.1Z"/></clipPath>
<clipPath id="cl7" clip-path="url(#cf7)"><path d="M233.7 671.1 L230.1 683.4 L221.1 694.3 L228.3 712.4 L235.5 734.1 L239.2 759.4 L237.4 784.7 L230.1 806.4 L224.7 828.1 L215.6 849.8 L201.2 871.5 L197.6 889.6 L204.8 915 L208.4 936.7 L206.6 965.6 L210.2 983.7 L224.7 994.6 L242.8 1003.6 L255.4 1005.4 L257.3 1027.1 L268.1 1036.2 L279 1048.8 L289.8 1063.3 L304.3 1077.8 L312.2 1084.3 L608.2 1088.6 L608.2 668.9Z"/></clipPath>
<g clip-path="url(#cf7)" stroke="#c4c4c4" stroke-width="1.3" stroke-dasharray="1.5 3" fill="none" opacity="1">
<path d="M278.6 672.6 L274.3 1082.5"/>
<path d="M374.5 672.6 L371.6 1082.5"/>
<path d="M470.3 672.2 L469.3 1082.8"/>
<path d="M566.6 671.8 L567.7 1083.2"/>
<path d="M198.6 775.7 L588.3 775.7"/>
<path d="M196.5 878.1 L591.2 878.1"/>
<path d="M194.3 980.1 L594.4 980.1"/>
</g>
<g clip-path="url(#cl7)">
<g filter="url(#cm23)">
<rect x="190.1" y="663.8" width="409.2" height="423.4" fill="#767676"/>
<g filter="url(#blob)">
<polygon points="301.2,741.4 482.9,736 488.4,811.9 401.5,822.8 306.6,811.9" fill="#8a8a8a"/>
<polygon points="306.6,670.9 469.4,670.9 469.4,730.5 306.6,736" fill="#6d6d6d"/>
<polygon points="233.3,741.4 306.6,736 309.3,801.1 274,806.5 233.3,801.1" fill="#a8a8a8"/>
<polygon points="233.3,676.3 293,676.3 293,736 233.3,738.7" fill="#878787"/>
<polygon points="482.9,687.1 591.4,676.3 591.4,801.1 537.2,822.8 496.5,795.6" fill="#ababab"/>
<ellipse cx="556.2" cy="738.7" rx="16.3" ry="16.3" fill="#bababa"/>
<polygon points="195.4,822.8 309.3,817.4 312,904.2 274,934 200.8,931.3" fill="#9d9d9d"/>
<polygon points="396.1,836.3 455.8,836.3 450.4,917.7 390.7,917.7" fill="#838383" opacity="0.7"/>
<polygon points="195.4,955.7 320.1,958.4 455.8,931.3 458.5,1094.1 265.9,1094.1" fill="#545454"/>
<polygon points="271.3,999.1 428.7,999.1 428.7,1094.1 298.4,1094.1" fill="#494949" opacity="0.8"/>
</g>
<g filter="url(#soft)">
<polygon points="507.3,801.1 537.2,828.2 569.7,801.1 599.6,790.2 607.7,1094.1 572.5,1094.1" fill="#686868"/>
</g>
<g filter="url(#blob)">
<polygon points="569.7,790.2 596.9,784.8 596.9,855.3 575.2,849.9" fill="#8e8e8e"/>
</g>
<g filter="url(#soft)">
<polygon points="507.3,801.1 526.9,871.6 545.9,958.4 573.8,1094.1 427.3,1094.1 466.6,944.9" fill="#474747"/>
</g>
</g>
<polygon points="208.9,927.2 213.5,938.9 233.8,941.1 255.5,934.6 275.9,931.8 275.9,934.8 256.1,938.1 234.4,945.1 212.1,944 206.2,931.3" fill="#ffffff"/>
<polygon points="235.2,972.8 255,974.2 256.6,968.7 258.8,977.4 236,976.6" fill="#ffffff"/>
<polygon points="254.2,1002.4 274.5,1000.7 271.8,1009.4 264.2,1012.1 258.8,1020.3 255,1012.7" fill="#ffffff"/>
<polygon points="212.1,905.5 221.6,907.4 219.7,913.7 213.2,912.3" fill="#ffffff"/>
<ellipse cx="459.6" cy="954.6" rx="3.5" ry="4.1" fill="#ffffff"/>
</g>
<g clip-path="url(#cf7)" stroke="#8a8f96" stroke-width="1.2" stroke-dasharray="1.5 3" fill="none" opacity="0.3">
<path d="M278.6 672.6 L274.3 1082.5"/>
<path d="M374.5 672.6 L371.6 1082.5"/>
<path d="M470.3 672.2 L469.3 1082.8"/>
<path d="M566.6 671.8 L567.7 1083.2"/>
<path d="M198.6 775.7 L588.3 775.7"/>
<path d="M196.5 878.1 L591.2 878.1"/>
<path d="M194.3 980.1 L594.4 980.1"/>
</g>
<g clip-path="url(#cf7)" fill="none" stroke="#2e2e2e" stroke-width="1.6" stroke-linejoin="round">
<path d="M233.7 671.1 L230.1 683.4 L221.1 694.3 L228.3 712.4 L235.5 734.1 L239.2 759.4 L237.4 784.7 L230.1 806.4 L224.7 828.1 L215.6 849.8 L201.2 871.5 L197.6 889.6 L204.8 915 L208.4 936.7 L206.6 965.6 L210.2 983.7 L224.7 994.6 L242.8 1003.6 L255.4 1005.4 L257.3 1027.1 L268.1 1036.2 L279 1048.8 L289.8 1063.3 L304.3 1077.8 L312.2 1084.3"/>
</g>
<path d="M201.2 672.6 L584.7 671.8 L597.3 1083.2 L192.1 1082.1Z" fill="none" stroke="#262626" stroke-width="2.6" stroke-linejoin="miter"/>
<text x="186.7" y="687.8" class="tk" text-anchor="end">20.0<tspan font-size="17" dy="-9" dx="1.5">°</tspan><tspan dy="9" dx="3"> N</tspan></text>
<text x="181.3" y="888.6" class="tk" text-anchor="end">15.0<tspan font-size="17" dy="-9" dx="1.5">°</tspan><tspan dy="9" dx="3"> N</tspan></text>
<text x="177.7" y="1093" class="tk" text-anchor="end">10.0<tspan font-size="17" dy="-9" dx="1.5">°</tspan><tspan dy="9" dx="3"> N</tspan></text>
<text x="275.4" y="1154.5" class="tk" text-anchor="middle">15.0<tspan font-size="17" dy="-9" dx="1.5">°</tspan><tspan dy="9" dx="3"> W</tspan></text>
<text x="480.7" y="1154.5" class="tk" text-anchor="middle">10.0<tspan font-size="17" dy="-9" dx="1.5">°</tspan><tspan dy="9" dx="3"> W</tspan></text>
</g>
<g transform="translate(1651.6,0)">
<clipPath id="cf8"><path d="M201.2 672.6 L584.7 671.8 L597.3 1083.2 L192.1 1082.1Z"/></clipPath>
<clipPath id="cl8" clip-path="url(#cf8)"><path d="M233.7 671.1 L230.1 683.4 L221.1 694.3 L228.3 712.4 L235.5 734.1 L239.2 759.4 L237.4 784.7 L230.1 806.4 L224.7 828.1 L215.6 849.8 L201.2 871.5 L197.6 889.6 L204.8 915 L208.4 936.7 L206.6 965.6 L210.2 983.7 L224.7 994.6 L242.8 1003.6 L255.4 1005.4 L257.3 1027.1 L268.1 1036.2 L279 1048.8 L289.8 1063.3 L304.3 1077.8 L312.2 1084.3 L608.2 1088.6 L608.2 668.9Z"/></clipPath>
<g clip-path="url(#cf8)" stroke="#c4c4c4" stroke-width="1.3" stroke-dasharray="1.5 3" fill="none" opacity="1">
<path d="M278.6 672.6 L274.3 1082.5"/>
<path d="M374.5 672.6 L371.6 1082.5"/>
<path d="M470.3 672.2 L469.3 1082.8"/>
<path d="M566.6 671.8 L567.7 1083.2"/>
<path d="M198.6 775.7 L588.3 775.7"/>
<path d="M196.5 878.1 L591.2 878.1"/>
<path d="M194.3 980.1 L594.4 980.1"/>
</g>
<g clip-path="url(#cl8)">
<g filter="url(#cm24)">
<rect x="190.1" y="663.8" width="409.2" height="423.4" fill="#6e6e6e"/>
<g filter="url(#mid)">
<polygon points="178.8,668.9 587.6,668.9 593,871.5 540.6,871.5 515.2,820.9 500.8,788.3 489.9,795.6 468.2,792 453.7,777.5 424.8,806.4 395.8,849.8 385,871.5 359.7,864.3 323.5,835.4 294.5,810 251.1,806.4 178.8,817.3" fill="#5e5e5e"/>
</g>
<g filter="url(#blob)">
<ellipse cx="267.4" cy="754" rx="21.7" ry="30.8" fill="#4c4c4c"/>
<polygon points="489.9,744.9 558.6,748.5 551.4,820.9 515.2,820.9" fill="#4c4c4c"/>
</g>
<g filter="url(#soft)">
<polygon points="527.9,673.3 578.5,673.3 555,784.7" fill="#4f4f4f"/>
</g>
<g filter="url(#blob)">
<ellipse cx="356" cy="726.8" rx="25.3" ry="21.7" fill="#6a6a6a"/>
<ellipse cx="464.6" cy="721.4" rx="10.1" ry="27.1" fill="#717171"/>
</g>
<g filter="url(#soft)">
<polygon points="500.8,788.3 540.6,893.3 577.5,1085 432,1085 464.6,893.3" fill="#7d7d7d"/>
<polygon points="540.6,893.3 593,871.5 598.4,1085 577.5,1085" fill="#6c6c6c"/>
</g>
<g filter="url(#mid)">
<ellipse cx="359.7" cy="953" rx="36.2" ry="30.8" fill="#7c7c7c"/>
<ellipse cx="312.6" cy="1030.7" rx="47" ry="43.4" fill="#7c7c7c"/>
<ellipse cx="424.8" cy="1038" rx="28.9" ry="36.2" fill="#777777"/>
</g>
</g>
</g>
<g clip-path="url(#cf8)" stroke="#8a8f96" stroke-width="1.2" stroke-dasharray="1.5 3" fill="none" opacity="0.3">
<path d="M278.6 672.6 L274.3 1082.5"/>
<path d="M374.5 672.6 L371.6 1082.5"/>
<path d="M470.3 672.2 L469.3 1082.8"/>
<path d="M566.6 671.8 L567.7 1083.2"/>
<path d="M198.6 775.7 L588.3 775.7"/>
<path d="M196.5 878.1 L591.2 878.1"/>
<path d="M194.3 980.1 L594.4 980.1"/>
</g>
<g clip-path="url(#cf8)" fill="none" stroke="#2e2e2e" stroke-width="1.6" stroke-linejoin="round">
<path d="M233.7 671.1 L230.1 683.4 L221.1 694.3 L228.3 712.4 L235.5 734.1 L239.2 759.4 L237.4 784.7 L230.1 806.4 L224.7 828.1 L215.6 849.8 L201.2 871.5 L197.6 889.6 L204.8 915 L208.4 936.7 L206.6 965.6 L210.2 983.7 L224.7 994.6 L242.8 1003.6 L255.4 1005.4 L257.3 1027.1 L268.1 1036.2 L279 1048.8 L289.8 1063.3 L304.3 1077.8 L312.2 1084.3"/>
</g>
<path d="M201.2 672.6 L584.7 671.8 L597.3 1083.2 L192.1 1082.1Z" fill="none" stroke="#262626" stroke-width="2.6" stroke-linejoin="miter"/>
<text x="186.7" y="687.8" class="tk" text-anchor="end">20.0<tspan font-size="17" dy="-9" dx="1.5">°</tspan><tspan dy="9" dx="3"> N</tspan></text>
<text x="181.3" y="888.6" class="tk" text-anchor="end">15.0<tspan font-size="17" dy="-9" dx="1.5">°</tspan><tspan dy="9" dx="3"> N</tspan></text>
<text x="177.7" y="1093" class="tk" text-anchor="end">10.0<tspan font-size="17" dy="-9" dx="1.5">°</tspan><tspan dy="9" dx="3"> N</tspan></text>
<text x="275.4" y="1154.5" class="tk" text-anchor="middle">15.0<tspan font-size="17" dy="-9" dx="1.5">°</tspan><tspan dy="9" dx="3"> W</tspan></text>
<text x="480.7" y="1154.5" class="tk" text-anchor="middle">10.0<tspan font-size="17" dy="-9" dx="1.5">°</tspan><tspan dy="9" dx="3"> W</tspan></text>
</g>
<g transform="translate(0,0)">
<clipPath id="cf9"><path d="M194 1224.5 L593 1223.4 L579.3 1648.5 L209.2 1647.4Z"/></clipPath>
<g clip-path="url(#cf9)" stroke="#c4c4c4" stroke-width="1.3" stroke-dasharray="1.5 3" fill="none" opacity="1">
<path d="M276.6 1224.5 L282.6 1647.4"/>
<path d="M374.7 1224.5 L376.2 1647.4"/>
<path d="M471.3 1224.5 L466.8 1647.4"/>
<path d="M569.3 1224.5 L561.9 1647.4"/>
<path d="M189 1328.5 L598 1328.5"/>
<path d="M189 1434 L598 1434"/>
<path d="M189 1538 L598 1538"/>
</g>
<g clip-path="url(#cf9)">
<g filter="url(#cm31)">
<linearGradient id="bg9" x1="0" y1="0" x2="0" y2="1"><stop offset="0" stop-color="#7e7e7e"/><stop offset="1" stop-color="#626262"/></linearGradient>
<rect x="192" y="1215.4" width="403.1" height="437.1" fill="url(#bg9)"/>
<g filter="url(#blob)">
<polygon points="188.5,1219.8 394.8,1219.8 369.4,1288.5 333.3,1332 260.9,1342.8 192.2,1295.8" fill="#9d9d9d"/>
<polygon points="260.9,1317.5 369.4,1288.5 423.7,1397.1 405.6,1505.6 351.3,1512.9 333.3,1397.1" fill="#8a8a8a" opacity="0.8"/>
<polygon points="496.1,1353.7 586.5,1288.5 590.1,1469.4 532.2,1451.3" fill="#7c7c7c" opacity="0.7"/>
<polygon points="199.4,1360.9 282.6,1382.6 333.3,1541.8 210.2,1541.8" fill="#5f5f5f" opacity="0.7"/>
</g>
<g filter="url(#mid)">
<polygon points="203,1469.4 239.2,1480.3 241,1498.4 204.8,1500.2" fill="#a8a8a8"/>
<polygon points="206.6,1561.7 226.5,1563.5 232,1587 208.4,1588.8" fill="#a8a8a8"/>
<polygon points="268.1,1650.3 282.6,1625 311.5,1622.1 333.3,1650.3" fill="#999999"/>
<polygon points="566.6,1650.3 581.1,1610.5 584.7,1650.3" fill="#a8a8a8"/>
</g>
</g>
<polygon points="472.5,1252.4 481.6,1243.3 496.1,1245.1 505.1,1256 510.5,1241.5 523.2,1239.7 516,1256 523.2,1270.4 510.5,1274.8 501.5,1263.2 488.8,1265 474.4,1261.4" fill="#ffffff"/>
</g>
<path d="M194 1224.5 L593 1223.4 L579.3 1648.5 L209.2 1647.4Z" fill="none" stroke="#262626" stroke-width="2.6" stroke-linejoin="miter"/>
<text x="179.5" y="1244.1" class="tk" text-anchor="end">20.0<tspan font-size="17" dy="-9" dx="1.5">°</tspan><tspan dy="9" dx="3"> S</tspan></text>
<text x="186.7" y="1452.1" class="tk" text-anchor="end">25.0<tspan font-size="17" dy="-9" dx="1.5">°</tspan><tspan dy="9" dx="3"> S</tspan></text>
<text x="195.8" y="1663.8" class="tk" text-anchor="end">30.0<tspan font-size="17" dy="-9" dx="1.5">°</tspan><tspan dy="9" dx="3"> S</tspan></text>
<text x="289.8" y="1718" class="tk" text-anchor="middle">20.0<tspan font-size="17" dy="-9" dx="1.5">°</tspan><tspan dy="9" dx="3"> E</tspan></text>
<text x="468.9" y="1715.1" class="tk" text-anchor="middle">25.0<tspan font-size="17" dy="-9" dx="1.5">°</tspan><tspan dy="9" dx="3"> E</tspan></text>
</g>
<g transform="translate(556.3,0)">
<clipPath id="cf10"><path d="M194 1224.5 L593 1223.4 L579.3 1648.5 L209.2 1647.4Z"/></clipPath>
<g clip-path="url(#cf10)" stroke="#c4c4c4" stroke-width="1.3" stroke-dasharray="1.5 3" fill="none" opacity="1">
<path d="M276.6 1224.5 L282.6 1647.4"/>
<path d="M374.7 1224.5 L376.2 1647.4"/>
<path d="M471.3 1224.5 L466.8 1647.4"/>
<path d="M569.3 1224.5 L561.9 1647.4"/>
<path d="M189 1328.5 L598 1328.5"/>
<path d="M189 1434 L598 1434"/>
<path d="M189 1538 L598 1538"/>
</g>
<g clip-path="url(#cf10)">
<g filter="url(#cm32)">
<rect x="192" y="1215.4" width="403.1" height="437.1" fill="#5e5e5e"/>
<g filter="url(#mid)">
<polygon points="174.1,1219.8 365.9,1219.8 374.9,1288.5 380.4,1360.9 337,1397.1 286.3,1433.3 271.8,1469.4 228.4,1505.6 174.1,1505.6" fill="#4a4a4a"/>
</g>
<g filter="url(#blob)">
<polygon points="192.2,1223.4 257.4,1223.4 271.8,1324.7 253.7,1433.3 203.1,1455" fill="#3c3c3c"/>
<polygon points="445.5,1219.8 526.9,1219.8 535.9,1288.5 554,1397.1 535.9,1505.6 554,1650.3 481.7,1650.3 431,1505.6 409.3,1433.3 438.3,1324.7" fill="#6e6e6e"/>
<polygon points="206.7,1541.8 300.8,1559.9 373.1,1614.2 373.1,1650.3 206.7,1650.3" fill="#6a6a6a"/>
</g>
<g filter="url(#mid)">
<polygon points="528.7,1219.8 597.4,1219.8 593.8,1288.5 546.8,1281.3" fill="#595959"/>
<polygon points="550.4,1382.6 590.2,1375.4 588.4,1433.3 554,1429.6" fill="#595959"/>
<ellipse cx="467.2" cy="1534.6" rx="18.1" ry="21.7" fill="#5e5e5e"/>
</g>
<g filter="url(#blob)">
<ellipse cx="499.8" cy="1256" rx="28.9" ry="21.7" fill="#777777"/>
</g>
</g>
<polygon points="483.5,1246.9 499.8,1248.7 507,1257.8 512.4,1241.5 525.1,1241.5 519.7,1256 523.3,1268.6 512.4,1270.4 503.4,1261.4 485.3,1257.8" fill="#ffffff"/>
</g>
<g clip-path="url(#cf10)" stroke="#8a8f96" stroke-width="1.2" stroke-dasharray="1.5 3" fill="none" opacity="0.18">
<path d="M276.6 1224.5 L282.6 1647.4"/>
<path d="M374.7 1224.5 L376.2 1647.4"/>
<path d="M471.3 1224.5 L466.8 1647.4"/>
<path d="M569.3 1224.5 L561.9 1647.4"/>
<path d="M189 1328.5 L598 1328.5"/>
<path d="M189 1434 L598 1434"/>
<path d="M189 1538 L598 1538"/>
</g>
<path d="M194 1224.5 L593 1223.4 L579.3 1648.5 L209.2 1647.4Z" fill="none" stroke="#262626" stroke-width="2.6" stroke-linejoin="miter"/>
<text x="179.5" y="1244.1" class="tk" text-anchor="end">20.0<tspan font-size="17" dy="-9" dx="1.5">°</tspan><tspan dy="9" dx="3"> S</tspan></text>
<text x="186.7" y="1452.1" class="tk" text-anchor="end">25.0<tspan font-size="17" dy="-9" dx="1.5">°</tspan><tspan dy="9" dx="3"> S</tspan></text>
<text x="195.8" y="1663.8" class="tk" text-anchor="end">30.0<tspan font-size="17" dy="-9" dx="1.5">°</tspan><tspan dy="9" dx="3"> S</tspan></text>
<text x="289.8" y="1718" class="tk" text-anchor="middle">20.0<tspan font-size="17" dy="-9" dx="1.5">°</tspan><tspan dy="9" dx="3"> E</tspan></text>
<text x="468.9" y="1715.1" class="tk" text-anchor="middle">25.0<tspan font-size="17" dy="-9" dx="1.5">°</tspan><tspan dy="9" dx="3"> E</tspan></text>
</g>
<g transform="translate(1115.6,0)">
<clipPath id="cf11"><path d="M194 1224.5 L593 1223.4 L579.3 1648.5 L209.2 1647.4Z"/></clipPath>
<g clip-path="url(#cf11)" stroke="#c4c4c4" stroke-width="1.3" stroke-dasharray="1.5 3" fill="none" opacity="1">
<path d="M276.6 1224.5 L282.6 1647.4"/>
<path d="M374.7 1224.5 L376.2 1647.4"/>
<path d="M471.3 1224.5 L466.8 1647.4"/>
<path d="M569.3 1224.5 L561.9 1647.4"/>
<path d="M189 1328.5 L598 1328.5"/>
<path d="M189 1434 L598 1434"/>
<path d="M189 1538 L598 1538"/>
</g>
<g clip-path="url(#cf11)">
<g filter="url(#cm33)">
<rect x="192" y="1215.4" width="403.1" height="437.1" fill="#393939"/>
<g filter="url(#blob)">
<polygon points="195.8,1469.4 232,1476.7 235.6,1505.6 203,1505.6" fill="#505050"/>
<polygon points="206.6,1559.9 232,1563.5 235.6,1596.1 208.4,1596.1" fill="#505050"/>
<polygon points="268.1,1650.3 282.6,1625 311.5,1623.2 333.3,1650.3" fill="#505050"/>
<polygon points="199.4,1227 369.4,1227 333.3,1324.7 203,1342.8" fill="#454545" opacity="0.6"/>
</g>
</g>
<polygon points="472.5,1252.4 481.6,1243.3 496.1,1245.1 505.1,1256 510.5,1241.5 523.2,1239.7 516,1256 523.2,1270.4 510.5,1274.8 501.5,1263.2 488.8,1265 474.4,1261.4" fill="#ffffff"/>
</g>
<g clip-path="url(#cf11)" stroke="#8a8f96" stroke-width="1.2" stroke-dasharray="1.5 3" fill="none" opacity="0.3">
<path d="M276.6 1224.5 L282.6 1647.4"/>
<path d="M374.7 1224.5 L376.2 1647.4"/>
<path d="M471.3 1224.5 L466.8 1647.4"/>
<path d="M569.3 1224.5 L561.9 1647.4"/>
<path d="M189 1328.5 L598 1328.5"/>
<path d="M189 1434 L598 1434"/>
<path d="M189 1538 L598 1538"/>
</g>
<path d="M194 1224.5 L593 1223.4 L579.3 1648.5 L209.2 1647.4Z" fill="none" stroke="#262626" stroke-width="2.6" stroke-linejoin="miter"/>
<text x="179.5" y="1244.1" class="tk" text-anchor="end">20.0<tspan font-size="17" dy="-9" dx="1.5">°</tspan><tspan dy="9" dx="3"> S</tspan></text>
<text x="186.7" y="1452.1" class="tk" text-anchor="end">25.0<tspan font-size="17" dy="-9" dx="1.5">°</tspan><tspan dy="9" dx="3"> S</tspan></text>
<text x="195.8" y="1663.8" class="tk" text-anchor="end">30.0<tspan font-size="17" dy="-9" dx="1.5">°</tspan><tspan dy="9" dx="3"> S</tspan></text>
<text x="289.8" y="1718" class="tk" text-anchor="middle">20.0<tspan font-size="17" dy="-9" dx="1.5">°</tspan><tspan dy="9" dx="3"> E</tspan></text>
<text x="468.9" y="1715.1" class="tk" text-anchor="middle">25.0<tspan font-size="17" dy="-9" dx="1.5">°</tspan><tspan dy="9" dx="3"> E</tspan></text>
</g>
<g transform="translate(1672.9,0)">
<clipPath id="cf12"><path d="M194 1224.5 L593 1223.4 L579.3 1648.5 L209.2 1647.4Z"/></clipPath>
<g clip-path="url(#cf12)" stroke="#c4c4c4" stroke-width="1.3" stroke-dasharray="1.5 3" fill="none" opacity="1">
<path d="M276.6 1224.5 L282.6 1647.4"/>
<path d="M374.7 1224.5 L376.2 1647.4"/>
<path d="M471.3 1224.5 L466.8 1647.4"/>
<path d="M569.3 1224.5 L561.9 1647.4"/>
<path d="M189 1328.5 L598 1328.5"/>
<path d="M189 1434 L598 1434"/>
<path d="M189 1538 L598 1538"/>
</g>
<g clip-path="url(#cf12)">
<g filter="url(#cm34)">
<rect x="192" y="1215.4" width="403.1" height="437.1" fill="#808080"/>
<g filter="url(#blob)">
<polygon points="188.5,1219.8 304.3,1219.8 297.1,1288.5 253.7,1324.7 232,1368.1 199.4,1382.6" fill="#777777" opacity="0.9"/>
<ellipse cx="307.9" cy="1353.7" rx="14.5" ry="10.9" fill="#757575"/>
</g>
</g>
<polygon points="472.5,1252.4 481.6,1243.3 496.1,1245.1 505.1,1256 510.5,1241.5 523.2,1239.7 516,1256 523.2,1270.4 510.5,1274.8 501.5,1263.2 488.8,1265 474.4,1261.4" fill="#fafafa"/>
</g>
<g clip-path="url(#cf12)" stroke="#8a8f96" stroke-width="1.2" stroke-dasharray="1.5 3" fill="none" opacity="0.3">
<path d="M276.6 1224.5 L282.6 1647.4"/>
<path d="M374.7 1224.5 L376.2 1647.4"/>
<path d="M471.3 1224.5 L466.8 1647.4"/>
<path d="M569.3 1224.5 L561.9 1647.4"/>
<path d="M189 1328.5 L598 1328.5"/>
<path d="M189 1434 L598 1434"/>
<path d="M189 1538 L598 1538"/>
</g>
<path d="M194 1224.5 L593 1223.4 L579.3 1648.5 L209.2 1647.4Z" fill="none" stroke="#262626" stroke-width="2.6" stroke-linejoin="miter"/>
<text x="179.5" y="1244.1" class="tk" text-anchor="end">20.0<tspan font-size="17" dy="-9" dx="1.5">°</tspan><tspan dy="9" dx="3"> S</tspan></text>
<text x="186.7" y="1452.1" class="tk" text-anchor="end">25.0<tspan font-size="17" dy="-9" dx="1.5">°</tspan><tspan dy="9" dx="3"> S</tspan></text>
<text x="195.8" y="1663.8" class="tk" text-anchor="end">30.0<tspan font-size="17" dy="-9" dx="1.5">°</tspan><tspan dy="9" dx="3"> S</tspan></text>
<text x="289.8" y="1718" class="tk" text-anchor="middle">20.0<tspan font-size="17" dy="-9" dx="1.5">°</tspan><tspan dy="9" dx="3"> E</tspan></text>
<text x="468.9" y="1715.1" class="tk" text-anchor="middle">25.0<tspan font-size="17" dy="-9" dx="1.5">°</tspan><tspan dy="9" dx="3"> E</tspan></text>
</g>
<g transform="translate(0,0)">
<clipPath id="cf13"><path d="M232 1778.6 L557.6 1777.9 L579.3 2203 L210.2 2201.2Z"/></clipPath>
<g clip-path="url(#cf13)" stroke="#c4c4c4" stroke-width="1.3" stroke-dasharray="1.5 3" fill="none" opacity="1">
<path d="M314.3 1778.6 L304.6 2201.2"/>
<path d="M395.8 1778.6 L395.8 2201.2"/>
<path d="M477.4 1778.6 L487.8 2201.2"/>
<path d="M205.2 1885.6 L584.3 1885.6"/>
<path d="M205.2 1991.8 L584.3 1991.8"/>
<path d="M205.2 2098 L584.3 2098"/>
</g>
<g clip-path="url(#cf13)">
<g filter="url(#cm41)">
<rect x="208.2" y="1769.9" width="373" height="437.1" fill="#6a6a6a"/>
<g filter="url(#blob)">
<polygon points="210.1,1780.1 275.6,1780.1 263,1916.2 237.8,2017 225.2,2188.3 205,2188.3" fill="#7c7c7c"/>
<polygon points="232.8,1775.1 326,1775.1 300.8,1865.8 232.8,1891" fill="#787878"/>
<polygon points="210.1,2054.7 305.8,2042.1 326,2188.3 207.6,2188.3" fill="#808080"/>
<polygon points="376.4,1775.1 477.1,1775.1 452,1828 389,1828" fill="#757575" opacity="0.7"/>
<polygon points="313.4,2004.4 426.8,1991.8 464.6,2017 452,2079.9 414.2,2117.7 406.6,2188.3 320.9,2188.3 300.8,2092.5" fill="#8a8a8a"/>
<polygon points="318.4,2054.7 356.2,2054.7 363.8,2130.3 356.2,2188.3 331,2168.1 313.4,2092.5" fill="#9b9b9b"/>
<polygon points="452,1853.2 560.3,1828 565.3,1954 502.3,1979.2 477.1,1991.8 439.4,1928.8" fill="#525252"/>
<polygon points="452,2079.9 514.9,2092.5 527.5,2188.3 416.7,2188.3 421.7,2130.3" fill="#525252"/>
<polygon points="502.3,1979.2 565.3,1941.4 572.9,2054.7 527.5,2117.7 497.3,2017" fill="#838383"/>
<polygon points="514.9,2130.3 577.9,2117.7 577.9,2188.3 527.5,2188.3" fill="#757575" opacity="0.8"/>
</g>
</g>
<polygon points="563.7,2202.6 572.8,2182.4 579.3,2202.6" fill="#ffffff"/>
</g>
<g clip-path="url(#cf13)" fill="none" stroke="#2e2e2e" stroke-width="1.6" stroke-linejoin="round">
<path d="M563.7 2202.6 L572.8 2182.4 L579.3 2202.6"/>
</g>
<path d="M232 1778.6 L557.6 1777.9 L579.3 2203 L210.2 2201.2Z" fill="none" stroke="#262626" stroke-width="2.6" stroke-linejoin="miter"/>
<text x="215.7" y="1794.9" class="tk" text-anchor="end">40.0<tspan font-size="17" dy="-9" dx="1.5">°</tspan><tspan dy="9" dx="3"> N</tspan></text>
<text x="204.8" y="2003" class="tk" text-anchor="end">35.0<tspan font-size="17" dy="-9" dx="1.5">°</tspan><tspan dy="9" dx="3"> N</tspan></text>
<text x="194" y="2212.8" class="tk" text-anchor="end">30.0<tspan font-size="17" dy="-9" dx="1.5">°</tspan><tspan dy="9" dx="3"> N</tspan></text>
<text x="213.9" y="2271.8" class="tk" text-anchor="middle">100.0<tspan font-size="17" dy="-9" dx="1.5">°</tspan><tspan dy="9" dx="3"> W</tspan></text>
<text x="402" y="2276.3" class="tk" text-anchor="middle">95.0<tspan font-size="17" dy="-9" dx="1.5">°</tspan><tspan dy="9" dx="3"> W</tspan></text>
<text x="587" y="2269.8" class="tk" text-anchor="middle">90.0<tspan font-size="17" dy="-9" dx="1.5">°</tspan><tspan dy="9" dx="3"> W</tspan></text>
</g>
<rect x="628.5" y="2236" width="40" height="50" fill="#fff"/>
<g transform="translate(534.5,0)">
<clipPath id="cf14"><path d="M232 1778.6 L557.6 1777.9 L579.3 2203 L210.2 2201.2Z"/></clipPath>
<g clip-path="url(#cf14)" stroke="#c4c4c4" stroke-width="1.3" stroke-dasharray="1.5 3" fill="none" opacity="1">
<path d="M314.3 1778.6 L304.6 2201.2"/>
<path d="M395.8 1778.6 L395.8 2201.2"/>
<path d="M477.4 1778.6 L487.8 2201.2"/>
<path d="M205.2 1885.6 L584.3 1885.6"/>
<path d="M205.2 1991.8 L584.3 1991.8"/>
<path d="M205.2 2098 L584.3 2098"/>
</g>
<g clip-path="url(#cf14)">
<g filter="url(#cm42)">
<rect x="208.2" y="1769.9" width="373" height="437.1" fill="#5e5e5e"/>
<g filter="url(#blob)">
<polygon points="220.7,1780.1 266,1780.1 276.1,1891 351.7,1928.8 351.7,1991.8 220.7,1991.8" fill="#575757"/>
<polygon points="215.6,1991.8 301.3,1979.2 376.9,2017 452.5,2042.1 422.2,2188.3 210.6,2188.3" fill="#525252"/>
<ellipse cx="248.4" cy="2100.1" rx="17.6" ry="32.8" fill="#464646"/>
<ellipse cx="334" cy="2153" rx="20.2" ry="32.8" fill="#444444"/>
<ellipse cx="283.6" cy="2017" rx="22.7" ry="20.2" fill="#4c4c4c"/>
</g>
<g filter="url(#mid)">
<polygon points="263.5,1780.1 402.1,1780.1 392,1840.6 376.9,1891 321.4,1906.1 276.1,1896 250.9,1840.6" fill="#6e6e6e"/>
</g>
<g filter="url(#blob)">
<ellipse cx="288.7" cy="1820.4" rx="17.6" ry="20.2" fill="#797979"/>
<polygon points="341.6,1916.2 402.1,1906.1 407.1,1966.6 351.7,1981.7" fill="#686868" opacity="0.8"/>
</g>
<g filter="url(#soft)">
<polygon points="509.1,1775.1 593.5,1775.1 593.5,2193.3 409.6,2193.3" fill="#6e6e6e"/>
</g>
<g filter="url(#mid)">
<polygon points="509.9,1775.1 536.9,1775.1 559.5,1891 564.6,1991.8 528,2092.5 490.2,2193.3 410.1,2193.3" fill="#7c7c7c"/>
</g>
</g>
<polygon points="563.7,2202.6 572.8,2182.4 579.3,2202.6" fill="#ffffff"/>
</g>
<g clip-path="url(#cf14)" stroke="#8a8f96" stroke-width="1.2" stroke-dasharray="1.5 3" fill="none" opacity="0.18">
<path d="M314.3 1778.6 L304.6 2201.2"/>
<path d="M395.8 1778.6 L395.8 2201.2"/>
<path d="M477.4 1778.6 L487.8 2201.2"/>
<path d="M205.2 1885.6 L584.3 1885.6"/>
<path d="M205.2 1991.8 L584.3 1991.8"/>
<path d="M205.2 2098 L584.3 2098"/>
</g>
<g clip-path="url(#cf14)" fill="none" stroke="#2e2e2e" stroke-width="1.6" stroke-linejoin="round">
<path d="M563.7 2202.6 L572.8 2182.4 L579.3 2202.6"/>
</g>
<path d="M232 1778.6 L557.6 1777.9 L579.3 2203 L210.2 2201.2Z" fill="none" stroke="#262626" stroke-width="2.6" stroke-linejoin="miter"/>
<text x="215.7" y="1794.9" class="tk" text-anchor="end">40.0<tspan font-size="17" dy="-9" dx="1.5">°</tspan><tspan dy="9" dx="3"> N</tspan></text>
<text x="204.8" y="2003" class="tk" text-anchor="end">35.0<tspan font-size="17" dy="-9" dx="1.5">°</tspan><tspan dy="9" dx="3"> N</tspan></text>
<text x="194" y="2212.8" class="tk" text-anchor="end">30.0<tspan font-size="17" dy="-9" dx="1.5">°</tspan><tspan dy="9" dx="3"> N</tspan></text>
<text x="213.9" y="2271.8" class="tk" text-anchor="middle">100.0<tspan font-size="17" dy="-9" dx="1.5">°</tspan><tspan dy="9" dx="3"> W</tspan></text>
<text x="402" y="2276.3" class="tk" text-anchor="middle">95.0<tspan font-size="17" dy="-9" dx="1.5">°</tspan><tspan dy="9" dx="3"> W</tspan></text>
<text x="587" y="2269.8" class="tk" text-anchor="middle">90.0<tspan font-size="17" dy="-9" dx="1.5">°</tspan><tspan dy="9" dx="3"> W</tspan></text>
</g>
<g transform="translate(1113.5,0)">
<clipPath id="cf15"><path d="M232 1778.6 L557.6 1777.9 L579.3 2203 L210.2 2201.2Z"/></clipPath>
<g clip-path="url(#cf15)" stroke="#c4c4c4" stroke-width="1.3" stroke-dasharray="1.5 3" fill="none" opacity="1">
<path d="M314.3 1778.6 L304.6 2201.2"/>
<path d="M395.8 1778.6 L395.8 2201.2"/>
<path d="M477.4 1778.6 L487.8 2201.2"/>
<path d="M205.2 1885.6 L584.3 1885.6"/>
<path d="M205.2 1991.8 L584.3 1991.8"/>
<path d="M205.2 2098 L584.3 2098"/>
</g>
<g clip-path="url(#cf15)">
<g filter="url(#cm43)">
<rect x="208.2" y="1769.9" width="373" height="437.1" fill="#424242"/>
<g filter="url(#blob)">
<polygon points="514.2,1937.1 564.8,1922.6 568.4,2081.8 532.2,2081.8" fill="#4e4e4e"/>
<polygon points="217.5,2045.6 297.1,2063.7 297.1,2190.3 213.9,2190.3" fill="#4e4e4e"/>
<polygon points="297.1,1792.4 405.6,1792.4 405.6,1900.9 297.1,1900.9" fill="#4c4c4c"/>
</g>
</g>
<polygon points="563.7,2202.6 572.8,2182.4 579.3,2202.6" fill="#ffffff"/>
</g>
<g clip-path="url(#cf15)" stroke="#8a8f96" stroke-width="1.2" stroke-dasharray="1.5 3" fill="none" opacity="0.3">
<path d="M314.3 1778.6 L304.6 2201.2"/>
<path d="M395.8 1778.6 L395.8 2201.2"/>
<path d="M477.4 1778.6 L487.8 2201.2"/>
<path d="M205.2 1885.6 L584.3 1885.6"/>
<path d="M205.2 1991.8 L584.3 1991.8"/>
<path d="M205.2 2098 L584.3 2098"/>
</g>
<g clip-path="url(#cf15)" fill="none" stroke="#2e2e2e" stroke-width="1.6" stroke-linejoin="round">
<path d="M563.7 2202.6 L572.8 2182.4 L579.3 2202.6"/>
</g>
<path d="M232 1778.6 L557.6 1777.9 L579.3 2203 L210.2 2201.2Z" fill="none" stroke="#262626" stroke-width="2.6" stroke-linejoin="miter"/>
<text x="215.7" y="1794.9" class="tk" text-anchor="end">40.0<tspan font-size="17" dy="-9" dx="1.5">°</tspan><tspan dy="9" dx="3"> N</tspan></text>
<text x="204.8" y="2003" class="tk" text-anchor="end">35.0<tspan font-size="17" dy="-9" dx="1.5">°</tspan><tspan dy="9" dx="3"> N</tspan></text>
<text x="194" y="2212.8" class="tk" text-anchor="end">30.0<tspan font-size="17" dy="-9" dx="1.5">°</tspan><tspan dy="9" dx="3"> N</tspan></text>
<text x="213.9" y="2271.8" class="tk" text-anchor="middle">100.0<tspan font-size="17" dy="-9" dx="1.5">°</tspan><tspan dy="9" dx="3"> W</tspan></text>
<text x="402" y="2276.3" class="tk" text-anchor="middle">95.0<tspan font-size="17" dy="-9" dx="1.5">°</tspan><tspan dy="9" dx="3"> W</tspan></text>
<text x="587" y="2269.8" class="tk" text-anchor="middle">90.0<tspan font-size="17" dy="-9" dx="1.5">°</tspan><tspan dy="9" dx="3"> W</tspan></text>
</g>
<g transform="translate(1670.8,0)">
<clipPath id="cf16"><path d="M232 1778.6 L557.6 1777.9 L579.3 2203 L210.2 2201.2Z"/></clipPath>
<g clip-path="url(#cf16)" stroke="#c4c4c4" stroke-width="1.3" stroke-dasharray="1.5 3" fill="none" opacity="1">
<path d="M314.3 1778.6 L304.6 2201.2"/>
<path d="M395.8 1778.6 L395.8 2201.2"/>
<path d="M477.4 1778.6 L487.8 2201.2"/>
<path d="M205.2 1885.6 L584.3 1885.6"/>
<path d="M205.2 1991.8 L584.3 1991.8"/>
<path d="M205.2 2098 L584.3 2098"/>
</g>
<g clip-path="url(#cf16)">
<g filter="url(#cm44)">
<rect x="208.2" y="1769.9" width="373" height="437.1" fill="#808080"/>
</g>
<polygon points="563.7,2202.6 572.8,2182.4 579.3,2202.6" fill="#ffffff"/>
</g>
<g clip-path="url(#cf16)" stroke="#8a8f96" stroke-width="1.2" stroke-dasharray="1.5 3" fill="none" opacity="0.3">
<path d="M314.3 1778.6 L304.6 2201.2"/>
<path d="M395.8 1778.6 L395.8 2201.2"/>
<path d="M477.4 1778.6 L487.8 2201.2"/>
<path d="M205.2 1885.6 L584.3 1885.6"/>
<path d="M205.2 1991.8 L584.3 1991.8"/>
<path d="M205.2 2098 L584.3 2098"/>
</g>
<g clip-path="url(#cf16)" fill="none" stroke="#2e2e2e" stroke-width="1.6" stroke-linejoin="round">
<path d="M563.7 2202.6 L572.8 2182.4 L579.3 2202.6"/>
</g>
<path d="M232 1778.6 L557.6 1777.9 L579.3 2203 L210.2 2201.2Z" fill="none" stroke="#262626" stroke-width="2.6" stroke-linejoin="miter"/>
<text x="215.7" y="1794.9" class="tk" text-anchor="end">40.0<tspan font-size="17" dy="-9" dx="1.5">°</tspan><tspan dy="9" dx="3"> N</tspan></text>
<text x="204.8" y="2003" class="tk" text-anchor="end">35.0<tspan font-size="17" dy="-9" dx="1.5">°</tspan><tspan dy="9" dx="3"> N</tspan></text>
<text x="194" y="2212.8" class="tk" text-anchor="end">30.0<tspan font-size="17" dy="-9" dx="1.5">°</tspan><tspan dy="9" dx="3"> N</tspan></text>
<text x="213.9" y="2271.8" class="tk" text-anchor="middle">100.0<tspan font-size="17" dy="-9" dx="1.5">°</tspan><tspan dy="9" dx="3"> W</tspan></text>
<text x="402" y="2276.3" class="tk" text-anchor="middle">95.0<tspan font-size="17" dy="-9" dx="1.5">°</tspan><tspan dy="9" dx="3"> W</tspan></text>
<text x="587" y="2269.8" class="tk" text-anchor="middle">90.0<tspan font-size="17" dy="-9" dx="1.5">°</tspan><tspan dy="9" dx="3"> W</tspan></text>
</g>
<g transform="translate(0,0)">
<clipPath id="cf17"><path d="M191.4 2342.4 Q394.7 2333.4 598.1 2341.6 L586.5 2760.2 Q394.7 2751.1 203.0 2759.1 Z"/></clipPath>
<g clip-path="url(#cf17)" stroke="#c4c4c4" stroke-width="1.3" stroke-dasharray="1.5 3" fill="none" opacity="1">
<path d="M295.6 2338.4 L300 2759.1"/>
<path d="M394 2338.4 L394 2759.1"/>
<path d="M495.3 2338.4 L491.4 2759.1"/>
<path d="M189.4 2365.4 L394.7 2361.4 L600.1 2365.4"/>
<path d="M189.4 2469.2 L394.7 2465.2 L600.1 2469.2"/>
<path d="M189.4 2572.4 L394.7 2568.4 L600.1 2572.4"/>
<path d="M189.4 2675.4 L394.7 2671.4 L600.1 2675.4"/>
</g>
<g clip-path="url(#cf17)">
<g filter="url(#cm51)">
<rect x="189.4" y="2333.6" width="410.7" height="430.6" fill="#686868"/>
<g filter="url(#blob)">
<polygon points="289.8,2338.7 311.5,2338.7 340.5,2374.9 391.1,2411.1 445.4,2443.7 488.8,2474.4 510.5,2474.4 535.9,2436.4 550.3,2407.5 597.4,2411.1 590.1,2763.8 496.1,2763.8 478,2631.8 441.8,2523.3 369.4,2469 315.2,2414.7" fill="#878787"/>
<polygon points="369.4,2472.6 441.8,2523.3 478,2631.8 496.1,2763.8 387.5,2763.8 369.4,2631.8 333.3,2523.3" fill="#787878" opacity="0.7"/>
<polygon points="546.7,2407.5 597.4,2411.1 593.7,2631.8 550.3,2613.7 478,2577.5 470.7,2494.3 514.2,2476.2 535.9,2440" fill="#a4a4a4"/>
<polygon points="199.4,2378.5 282.6,2385.8 304.3,2523.3 282.6,2631.8 203,2631.8" fill="#5f5f5f" opacity="0.6"/>
<ellipse cx="333.3" cy="2649.9" rx="39.8" ry="47" fill="#5f5f5f" opacity="0.7"/>
</g>
<g filter="url(#mid)">
<ellipse cx="247.1" cy="2670.9" rx="9.4" ry="9.4" fill="#ababab"/>
</g>
</g>
<polygon points="313.3,2338.7 318.8,2360.4 340.5,2378.5 373,2400.2 405.6,2422 434.5,2440 456.2,2454.5 477.9,2469 496,2478 514.1,2472.6 528.6,2458.1 537.6,2440 546.7,2418.3 552.1,2396.6 541.3,2378.5 521.4,2360.4 527.5,2338.7" fill="#c9c9c9"/>
<ellipse cx="247.1" cy="2418.3" rx="5.1" ry="13" fill="#ffffff" transform="rotate(18 247.1 2418.3)"/>
<ellipse cx="468.9" cy="2427.4" rx="6.5" ry="3.6" fill="#f06a34" transform="rotate(-20 468.9 2427.4)"/>
<polygon points="208.4,2340.5 221.1,2373.1 237.4,2360.4 250,2356.8 281.9,2371.3 288.7,2355.7 271,2340.5" fill="#ffffff"/>
<polygon points="527.5,2338.7 521.4,2360.4 541.3,2378.5 552.1,2394.8 557.5,2403.9 582.9,2405.7 599.1,2415.4 604.6,2415.4 604.6,2335.1" fill="#ffffff"/>
</g>
<g clip-path="url(#cf17)" fill="none" stroke="#2e2e2e" stroke-width="1.6" stroke-linejoin="round">
<path d="M208.4 2340.5 L221.1 2373.1 L237.4 2360.4 L250 2356.8 L281.9 2371.3 L288.7 2355.7 L271 2340.5"/>
<path d="M527.5 2338.7 L521.4 2360.4 L541.3 2378.5 L552.1 2394.8 L557.5 2403.9 L582.9 2405.7 L599.1 2415.4"/>
</g>
<path d="M191.4 2342.4 Q394.7 2333.4 598.1 2341.6 L586.5 2760.2 Q394.7 2751.1 203.0 2759.1 Z" fill="none" stroke="#262626" stroke-width="2.6" stroke-linejoin="miter"/>
<text x="177.7" y="2381.1" class="tk" text-anchor="end">15.0<tspan font-size="17" dy="-9" dx="1.5">°</tspan><tspan dy="9" dx="3"> S</tspan></text>
<text x="183.1" y="2589.1" class="tk" text-anchor="end">20.0<tspan font-size="17" dy="-9" dx="1.5">°</tspan><tspan dy="9" dx="3"> S</tspan></text>
<text x="305.2" y="2829.8" class="tk" text-anchor="middle">130.0<tspan font-size="17" dy="-9" dx="1.5">°</tspan><tspan dy="9" dx="3"> E</tspan></text>
<text x="491.5" y="2829.8" class="tk" text-anchor="middle">135.0<tspan font-size="17" dy="-9" dx="1.5">°</tspan><tspan dy="9" dx="3"> E</tspan></text>
</g>
<g transform="translate(535.3,0)">
<clipPath id="cf18"><path d="M191.4 2342.4 Q394.7 2333.4 598.1 2341.6 L586.5 2760.2 Q394.7 2751.1 203.0 2759.1 Z"/></clipPath>
<g clip-path="url(#cf18)" stroke="#c4c4c4" stroke-width="1.3" stroke-dasharray="1.5 3" fill="none" opacity="1">
<path d="M295.6 2338.4 L300 2759.1"/>
<path d="M394 2338.4 L394 2759.1"/>
<path d="M495.3 2338.4 L491.4 2759.1"/>
<path d="M189.4 2365.4 L394.7 2361.4 L600.1 2365.4"/>
<path d="M189.4 2469.2 L394.7 2465.2 L600.1 2469.2"/>
<path d="M189.4 2572.4 L394.7 2568.4 L600.1 2572.4"/>
<path d="M189.4 2675.4 L394.7 2671.4 L600.1 2675.4"/>
</g>
<g clip-path="url(#cf18)">
<g filter="url(#cm52)">
<rect x="189.4" y="2333.6" width="410.7" height="430.6" fill="#5b5b5b"/>
<g filter="url(#blob)">
<polygon points="175.1,2338.7 309,2338.7 323.5,2487.1 294.5,2595.6 301.8,2763.8 175.1,2763.8" fill="#7a7a7a"/>
<polygon points="200.5,2559.4 287.3,2613.7 301.8,2763.8 200.5,2763.8" fill="#6c6c6c" opacity="0.7"/>
<polygon points="316.2,2559.4 410.3,2595.6 403.1,2704.2 316.2,2722.2" fill="#686868" opacity="0.8"/>
<polygon points="301.8,2356.8 464.6,2465.4 446.5,2545 338,2494.3 298.2,2396.6" fill="#4a4a4a"/>
<polygon points="464.6,2472.6 540.6,2440 555,2407.5 598.4,2411.1 591.2,2763.8 482.7,2763.8 475.4,2595.6" fill="#484848"/>
<polygon points="477.2,2494.3 511.6,2494.3 508,2704.2 488.1,2704.2" fill="#353535"/>
<polygon points="573.1,2407.5 598.4,2407.5 596.6,2523.3 569.5,2516" fill="#373737"/>
<ellipse cx="551.4" cy="2584.8" rx="18.1" ry="21.7" fill="#393939"/>
</g>
</g>
<polygon points="313.3,2338.7 318.8,2360.4 340.5,2378.5 373,2400.2 405.6,2422 434.5,2440 456.2,2454.5 477.9,2469 496,2478 514.1,2472.6 528.6,2458.1 537.6,2440 546.7,2418.3 552.1,2396.6 541.3,2378.5 521.4,2360.4 527.5,2338.7" fill="#c9c9c9"/>
<ellipse cx="468.9" cy="2427.4" rx="6.5" ry="3.6" fill="#4b95c8" transform="rotate(-20 468.9 2427.4)"/>
<polygon points="208.4,2340.5 221.1,2373.1 237.4,2360.4 250,2356.8 281.9,2371.3 288.7,2355.7 271,2340.5" fill="#ffffff"/>
<polygon points="527.5,2338.7 521.4,2360.4 541.3,2378.5 552.1,2394.8 557.5,2403.9 582.9,2405.7 599.1,2415.4 604.6,2415.4 604.6,2335.1" fill="#ffffff"/>
</g>
<g clip-path="url(#cf18)" stroke="#8a8f96" stroke-width="1.2" stroke-dasharray="1.5 3" fill="none" opacity="0.18">
<path d="M295.6 2338.4 L300 2759.1"/>
<path d="M394 2338.4 L394 2759.1"/>
<path d="M495.3 2338.4 L491.4 2759.1"/>
<path d="M189.4 2365.4 L394.7 2361.4 L600.1 2365.4"/>
<path d="M189.4 2469.2 L394.7 2465.2 L600.1 2469.2"/>
<path d="M189.4 2572.4 L394.7 2568.4 L600.1 2572.4"/>
<path d="M189.4 2675.4 L394.7 2671.4 L600.1 2675.4"/>
</g>
<g clip-path="url(#cf18)" fill="none" stroke="#2e2e2e" stroke-width="1.6" stroke-linejoin="round">
<path d="M208.4 2340.5 L221.1 2373.1 L237.4 2360.4 L250 2356.8 L281.9 2371.3 L288.7 2355.7 L271 2340.5"/>
<path d="M527.5 2338.7 L521.4 2360.4 L541.3 2378.5 L552.1 2394.8 L557.5 2403.9 L582.9 2405.7 L599.1 2415.4"/>
</g>
<path d="M191.4 2342.4 Q394.7 2333.4 598.1 2341.6 L586.5 2760.2 Q394.7 2751.1 203.0 2759.1 Z" fill="none" stroke="#262626" stroke-width="2.6" stroke-linejoin="miter"/>
<text x="177.7" y="2381.1" class="tk" text-anchor="end">15.0<tspan font-size="17" dy="-9" dx="1.5">°</tspan><tspan dy="9" dx="3"> S</tspan></text>
<text x="183.1" y="2589.1" class="tk" text-anchor="end">20.0<tspan font-size="17" dy="-9" dx="1.5">°</tspan><tspan dy="9" dx="3"> S</tspan></text>
<text x="305.2" y="2829.8" class="tk" text-anchor="middle">130.0<tspan font-size="17" dy="-9" dx="1.5">°</tspan><tspan dy="9" dx="3"> E</tspan></text>
<text x="491.5" y="2829.8" class="tk" text-anchor="middle">135.0<tspan font-size="17" dy="-9" dx="1.5">°</tspan><tspan dy="9" dx="3"> E</tspan></text>
</g>
<g transform="translate(1114.5,0)">
<clipPath id="cf19"><path d="M191.4 2342.4 Q394.7 2333.4 598.1 2341.6 L586.5 2760.2 Q394.7 2751.1 203.0 2759.1 Z"/></clipPath>
<g clip-path="url(#cf19)" stroke="#c4c4c4" stroke-width="1.3" stroke-dasharray="1.5 3" fill="none" opacity="1">
<path d="M295.6 2338.4 L300 2759.1"/>
<path d="M394 2338.4 L394 2759.1"/>
<path d="M495.3 2338.4 L491.4 2759.1"/>
<path d="M189.4 2365.4 L394.7 2361.4 L600.1 2365.4"/>
<path d="M189.4 2469.2 L394.7 2465.2 L600.1 2469.2"/>
<path d="M189.4 2572.4 L394.7 2568.4 L600.1 2572.4"/>
<path d="M189.4 2675.4 L394.7 2671.4 L600.1 2675.4"/>
</g>
<g clip-path="url(#cf19)">
<g filter="url(#cm53)">
<rect x="189.4" y="2333.6" width="410.7" height="430.6" fill="#424242"/>
<g filter="url(#blob)">
<polygon points="297,2338.7 318.8,2360.4 477.9,2472.6 514.1,2476.2 550.3,2407.5 601,2414.7 593.7,2763.8 499.7,2763.8 463.5,2559.4 391.1,2472.6 304.3,2400.2" fill="#4c4c4c"/>
<ellipse cx="564.8" cy="2733.1" rx="25.3" ry="28.9" fill="#575757"/>
</g>
<g filter="url(#mid)">
<ellipse cx="251.8" cy="2671.6" rx="5.1" ry="6.5" fill="#a8a8a8"/>
</g>
</g>
<polygon points="313.3,2338.7 318.8,2360.4 340.5,2378.5 373,2400.2 405.6,2422 434.5,2440 456.2,2454.5 477.9,2469 496,2478 514.1,2472.6 528.6,2458.1 537.6,2440 546.7,2418.3 552.1,2396.6 541.3,2378.5 521.4,2360.4 527.5,2338.7" fill="#c9c9c9"/>
<ellipse cx="247.1" cy="2418.3" rx="5.1" ry="13" fill="#ffffff" transform="rotate(18 247.1 2418.3)"/>
<ellipse cx="468.9" cy="2426.3" rx="6.5" ry="3.3" fill="#f9c863" transform="rotate(-15 468.9 2426.3)"/>
<polygon points="208.4,2340.5 221.1,2373.1 237.4,2360.4 250,2356.8 281.9,2371.3 288.7,2355.7 271,2340.5" fill="#ffffff"/>
<polygon points="527.5,2338.7 521.4,2360.4 541.3,2378.5 552.1,2394.8 557.5,2403.9 582.9,2405.7 599.1,2415.4 604.6,2415.4 604.6,2335.1" fill="#ffffff"/>
</g>
<g clip-path="url(#cf19)" stroke="#8a8f96" stroke-width="1.2" stroke-dasharray="1.5 3" fill="none" opacity="0.3">
<path d="M295.6 2338.4 L300 2759.1"/>
<path d="M394 2338.4 L394 2759.1"/>
<path d="M495.3 2338.4 L491.4 2759.1"/>
<path d="M189.4 2365.4 L394.7 2361.4 L600.1 2365.4"/>
<path d="M189.4 2469.2 L394.7 2465.2 L600.1 2469.2"/>
<path d="M189.4 2572.4 L394.7 2568.4 L600.1 2572.4"/>
<path d="M189.4 2675.4 L394.7 2671.4 L600.1 2675.4"/>
</g>
<g clip-path="url(#cf19)" fill="none" stroke="#2e2e2e" stroke-width="1.6" stroke-linejoin="round">
<path d="M208.4 2340.5 L221.1 2373.1 L237.4 2360.4 L250 2356.8 L281.9 2371.3 L288.7 2355.7 L271 2340.5"/>
<path d="M527.5 2338.7 L521.4 2360.4 L541.3 2378.5 L552.1 2394.8 L557.5 2403.9 L582.9 2405.7 L599.1 2415.4"/>
</g>
<path d="M191.4 2342.4 Q394.7 2333.4 598.1 2341.6 L586.5 2760.2 Q394.7 2751.1 203.0 2759.1 Z" fill="none" stroke="#262626" stroke-width="2.6" stroke-linejoin="miter"/>
<text x="177.7" y="2381.1" class="tk" text-anchor="end">15.0<tspan font-size="17" dy="-9" dx="1.5">°</tspan><tspan dy="9" dx="3"> S</tspan></text>
<text x="183.1" y="2589.1" class="tk" text-anchor="end">20.0<tspan font-size="17" dy="-9" dx="1.5">°</tspan><tspan dy="9" dx="3"> S</tspan></text>
<text x="305.2" y="2829.8" class="tk" text-anchor="middle">130.0<tspan font-size="17" dy="-9" dx="1.5">°</tspan><tspan dy="9" dx="3"> E</tspan></text>
<text x="491.5" y="2829.8" class="tk" text-anchor="middle">135.0<tspan font-size="17" dy="-9" dx="1.5">°</tspan><tspan dy="9" dx="3"> E</tspan></text>
</g>
<g transform="translate(1671.5,0)">
<clipPath id="cf20"><path d="M191.4 2342.4 Q394.7 2333.4 598.1 2341.6 L586.5 2760.2 Q394.7 2751.1 203.0 2759.1 Z"/></clipPath>
<g clip-path="url(#cf20)" stroke="#c4c4c4" stroke-width="1.3" stroke-dasharray="1.5 3" fill="none" opacity="1">
<path d="M295.6 2338.4 L300 2759.1"/>
<path d="M394 2338.4 L394 2759.1"/>
<path d="M495.3 2338.4 L491.4 2759.1"/>
<path d="M189.4 2365.4 L394.7 2361.4 L600.1 2365.4"/>
<path d="M189.4 2469.2 L394.7 2465.2 L600.1 2469.2"/>
<path d="M189.4 2572.4 L394.7 2568.4 L600.1 2572.4"/>
<path d="M189.4 2675.4 L394.7 2671.4 L600.1 2675.4"/>
</g>
<g clip-path="url(#cf20)">
<g filter="url(#cm54)">
<rect x="189.4" y="2333.6" width="410.7" height="430.6" fill="#6e6e6e"/>
<g filter="url(#blob)">
<polygon points="158.9,2338.7 307.2,2338.7 300,2523.3 292.7,2631.8 209.5,2668 158.9,2763.8" fill="#7f7f7f"/>
<polygon points="202.3,2668 289.1,2631.8 303.6,2763.8 202.3,2763.8" fill="#777777" opacity="0.7"/>
<polygon points="549.6,2407.5 600.2,2407.5 593,2631.8 538.7,2595.6" fill="#606060"/>
<polygon points="404.9,2472.6 484.5,2472.6 484.5,2523.3 412.1,2523.3" fill="#646464" opacity="0.8"/>
<ellipse cx="538.7" cy="2715" rx="14.5" ry="32.6" fill="#626262"/>
</g>
<g filter="url(#big)">
<polygon points="375.9,2606.5 491.7,2617.3 513.4,2747.6 375.9,2762" fill="#858585"/>
</g>
</g>
<polygon points="313.3,2338.7 318.8,2360.4 340.5,2378.5 373,2400.2 405.6,2422 434.5,2440 456.2,2454.5 477.9,2469 496,2478 514.1,2472.6 528.6,2458.1 537.6,2440 546.7,2418.3 552.1,2396.6 541.3,2378.5 521.4,2360.4 527.5,2338.7" fill="#c9c9c9"/>
<polygon points="208.4,2340.5 221.1,2373.1 237.4,2360.4 250,2356.8 281.9,2371.3 288.7,2355.7 271,2340.5" fill="#ffffff"/>
<polygon points="527.5,2338.7 521.4,2360.4 541.3,2378.5 552.1,2394.8 557.5,2403.9 582.9,2405.7 599.1,2415.4 604.6,2415.4 604.6,2335.1" fill="#ffffff"/>
</g>
<g clip-path="url(#cf20)" stroke="#8a8f96" stroke-width="1.2" stroke-dasharray="1.5 3" fill="none" opacity="0.3">
<path d="M295.6 2338.4 L300 2759.1"/>
<path d="M394 2338.4 L394 2759.1"/>
<path d="M495.3 2338.4 L491.4 2759.1"/>
<path d="M189.4 2365.4 L394.7 2361.4 L600.1 2365.4"/>
<path d="M189.4 2469.2 L394.7 2465.2 L600.1 2469.2"/>
<path d="M189.4 2572.4 L394.7 2568.4 L600.1 2572.4"/>
<path d="M189.4 2675.4 L394.7 2671.4 L600.1 2675.4"/>
</g>
<g clip-path="url(#cf20)" fill="none" stroke="#2e2e2e" stroke-width="1.6" stroke-linejoin="round">
<path d="M208.4 2340.5 L221.1 2373.1 L237.4 2360.4 L250 2356.8 L281.9 2371.3 L288.7 2355.7 L271 2340.5"/>
<path d="M527.5 2338.7 L521.4 2360.4 L541.3 2378.5 L552.1 2394.8 L557.5 2403.9 L582.9 2405.7 L599.1 2415.4"/>
</g>
<path d="M191.4 2342.4 Q394.7 2333.4 598.1 2341.6 L586.5 2760.2 Q394.7 2751.1 203.0 2759.1 Z" fill="none" stroke="#262626" stroke-width="2.6" stroke-linejoin="miter"/>
<text x="177.7" y="2381.1" class="tk" text-anchor="end">15.0<tspan font-size="17" dy="-9" dx="1.5">°</tspan><tspan dy="9" dx="3"> S</tspan></text>
<text x="183.1" y="2589.1" class="tk" text-anchor="end">20.0<tspan font-size="17" dy="-9" dx="1.5">°</tspan><tspan dy="9" dx="3"> S</tspan></text>
<text x="305.2" y="2829.8" class="tk" text-anchor="middle">130.0<tspan font-size="17" dy="-9" dx="1.5">°</tspan><tspan dy="9" dx="3"> E</tspan></text>
<text x="491.5" y="2829.8" class="tk" text-anchor="middle">135.0<tspan font-size="17" dy="-9" dx="1.5">°</tspan><tspan dy="9" dx="3"> E</tspan></text>
</g>
<g transform="translate(0,556.5)">
<clipPath id="cf21"><path d="M191.4 2342.4 Q394.7 2333.4 598.1 2341.6 L586.5 2760.2 Q394.7 2751.1 203.0 2759.1 Z"/></clipPath>
<g clip-path="url(#cf21)" stroke="#c4c4c4" stroke-width="1.3" stroke-dasharray="1.5 3" fill="none" opacity="1">
<path d="M295.6 2338.4 L300 2759.1"/>
<path d="M394 2338.4 L394 2759.1"/>
<path d="M495.3 2338.4 L491.4 2759.1"/>
<path d="M189.4 2365.4 L394.7 2361.4 L600.1 2365.4"/>
<path d="M189.4 2469.2 L394.7 2465.2 L600.1 2469.2"/>
<path d="M189.4 2572.4 L394.7 2568.4 L600.1 2572.4"/>
<path d="M189.4 2675.4 L394.7 2671.4 L600.1 2675.4"/>
</g>
<g clip-path="url(#cf21)">
<g filter="url(#cm61)">
<rect x="189.4" y="2333.6" width="410.7" height="430.6" fill="#b1b1b1"/>
<g filter="url(#blob)">
<polygon points="297.1,2337.7 496.1,2337.7 514.2,2480.6 496.1,2589.1 405.6,2607.2 315.2,2643.4 260.9,2625.3 253.7,2552.9 304.3,2444.4" fill="#cacaca"/>
<polygon points="387.5,2337.7 459.9,2337.7 441.8,2516.8 398.4,2516.8" fill="#d7d7d7" opacity="0.8"/>
<polygon points="188.5,2408.2 253.7,2415.5 282.6,2480.6 253.7,2552.9 199.4,2571" fill="#959595"/>
<polygon points="297.1,2661.5 441.8,2643.4 590.1,2661.5 590.1,2764.6 199.4,2764.6 199.4,2697.7" fill="#929292"/>
<polygon points="532.2,2426.3 597.4,2419.1 593.7,2516.8 543.1,2498.7" fill="#999999"/>
<polygon points="514.2,2589.1 590.1,2552.9 590.1,2661.5 514.2,2661.5" fill="#a0a0a0" opacity="0.7"/>
</g>
<g filter="url(#mid)">
<ellipse cx="250" cy="2672.3" rx="8.7" ry="8.7" fill="#f8f8f8"/>
</g>
</g>
<ellipse cx="247.1" cy="2418.3" rx="5.1" ry="13" fill="#ffffff" transform="rotate(18 247.1 2418.3)"/>
<polygon points="208.4,2340.5 221.1,2373.1 237.4,2360.4 250,2356.8 281.9,2371.3 288.7,2355.7 271,2340.5" fill="#ffffff"/>
<polygon points="527.5,2338.7 521.4,2360.4 541.3,2378.5 552.1,2394.8 557.5,2403.9 582.9,2405.7 599.1,2415.4 604.6,2415.4 604.6,2335.1" fill="#ffffff"/>
</g>
<g clip-path="url(#cf21)" stroke="#ffd8d8" stroke-width="1.3" stroke-dasharray="3 3" fill="none" opacity="0.7">
<path d="M295.6 2338.4 L300 2759.1"/>
<path d="M394 2338.4 L394 2759.1"/>
<path d="M495.3 2338.4 L491.4 2759.1"/>
<path d="M189.4 2365.4 L394.7 2361.4 L600.1 2365.4"/>
<path d="M189.4 2469.2 L394.7 2465.2 L600.1 2469.2"/>
<path d="M189.4 2572.4 L394.7 2568.4 L600.1 2572.4"/>
<path d="M189.4 2675.4 L394.7 2671.4 L600.1 2675.4"/>
</g>
<g clip-path="url(#cf21)" fill="none" stroke="#2e2e2e" stroke-width="1.6" stroke-linejoin="round">
<path d="M208.4 2340.5 L221.1 2373.1 L237.4 2360.4 L250 2356.8 L281.9 2371.3 L288.7 2355.7 L271 2340.5"/>
<path d="M527.5 2338.7 L521.4 2360.4 L541.3 2378.5 L552.1 2394.8 L557.5 2403.9 L582.9 2405.7 L599.1 2415.4"/>
</g>
<path d="M191.4 2342.4 Q394.7 2333.4 598.1 2341.6 L586.5 2760.2 Q394.7 2751.1 203.0 2759.1 Z" fill="none" stroke="#262626" stroke-width="2.6" stroke-linejoin="miter"/>
<text x="177.7" y="2381.1" class="tk" text-anchor="end">15.0<tspan font-size="17" dy="-9" dx="1.5">°</tspan><tspan dy="9" dx="3"> S</tspan></text>
<text x="183.1" y="2589.1" class="tk" text-anchor="end">20.0<tspan font-size="17" dy="-9" dx="1.5">°</tspan><tspan dy="9" dx="3"> S</tspan></text>
<text x="305.2" y="2829.8" class="tk" text-anchor="middle">130.0<tspan font-size="17" dy="-9" dx="1.5">°</tspan><tspan dy="9" dx="3"> E</tspan></text>
<text x="491.5" y="2829.8" class="tk" text-anchor="middle">135.0<tspan font-size="17" dy="-9" dx="1.5">°</tspan><tspan dy="9" dx="3"> E</tspan></text>
</g>
<g transform="translate(535.3,556.5)">
<clipPath id="cf22"><path d="M191.4 2342.4 Q394.7 2333.4 598.1 2341.6 L586.5 2760.2 Q394.7 2751.1 203.0 2759.1 Z"/></clipPath>
<g clip-path="url(#cf22)" stroke="#c4c4c4" stroke-width="1.3" stroke-dasharray="1.5 3" fill="none" opacity="1">
<path d="M295.6 2338.4 L300 2759.1"/>
<path d="M394 2338.4 L394 2759.1"/>
<path d="M495.3 2338.4 L491.4 2759.1"/>
<path d="M189.4 2365.4 L394.7 2361.4 L600.1 2365.4"/>
<path d="M189.4 2469.2 L394.7 2465.2 L600.1 2469.2"/>
<path d="M189.4 2572.4 L394.7 2568.4 L600.1 2572.4"/>
<path d="M189.4 2675.4 L394.7 2671.4 L600.1 2675.4"/>
</g>
<g clip-path="url(#cf22)">
<g filter="url(#cm62)">
<rect x="189.4" y="2333.6" width="410.7" height="430.6" fill="#3c3c3c"/>
<g filter="url(#blob)">
<polygon points="184.2,2334.6 283.7,2334.6 255.3,2476.7 226.9,2583.3 184.2,2633" fill="#595959"/>
<polygon points="184.2,2498 262.4,2498 283.7,2760.9 184.2,2760.9" fill="#4a4a4a" opacity="0.8"/>
<polygon points="521.7,2405.6 603.5,2405.6 596.4,2764.5 539.5,2764.5" fill="#4c4c4c"/>
</g>
<g filter="url(#mid)">
<polygon points="290.8,2334.6 496.9,2334.6 519.6,2476.7 500.4,2583.3 464.9,2689.8 425.8,2718.3 354.8,2718.3 297.9,2661.4 255.3,2604.6 312.1,2476.7" fill="#2a2a2a"/>
</g>
<g filter="url(#soft)">
<polygon points="408.1,2498 442.9,2689.8 420.1,2736 377.5,2689.8" fill="#464646"/>
</g>
<g filter="url(#mid)">
<ellipse cx="405.9" cy="2399.9" rx="14.2" ry="27" fill="#090909"/>
</g>
<g filter="url(#blob)">
<polygon points="326.3,2718.3 468.5,2718.3 454.2,2764.5 340.6,2764.5" fill="#333333" opacity="0.6"/>
</g>
</g>
<ellipse cx="247.1" cy="2418.3" rx="5.1" ry="13" fill="#d8e8f4" transform="rotate(18 247.1 2418.3)"/>
<polygon points="208.4,2340.5 221.1,2373.1 237.4,2360.4 250,2356.8 281.9,2371.3 288.7,2355.7 271,2340.5" fill="#ffffff"/>
<polygon points="527.5,2338.7 521.4,2360.4 541.3,2378.5 552.1,2394.8 557.5,2403.9 582.9,2405.7 599.1,2415.4 604.6,2415.4 604.6,2335.1" fill="#ffffff"/>
</g>
<g clip-path="url(#cf22)" stroke="#d8ecff" stroke-width="1.3" stroke-dasharray="3 3" fill="none" opacity="0.7">
<path d="M295.6 2338.4 L300 2759.1"/>
<path d="M394 2338.4 L394 2759.1"/>
<path d="M495.3 2338.4 L491.4 2759.1"/>
<path d="M189.4 2365.4 L394.7 2361.4 L600.1 2365.4"/>
<path d="M189.4 2469.2 L394.7 2465.2 L600.1 2469.2"/>
<path d="M189.4 2572.4 L394.7 2568.4 L600.1 2572.4"/>
<path d="M189.4 2675.4 L394.7 2671.4 L600.1 2675.4"/>
</g>
<g clip-path="url(#cf22)" fill="none" stroke="#2e2e2e" stroke-width="1.6" stroke-linejoin="round">
<path d="M208.4 2340.5 L221.1 2373.1 L237.4 2360.4 L250 2356.8 L281.9 2371.3 L288.7 2355.7 L271 2340.5"/>
<path d="M527.5 2338.7 L521.4 2360.4 L541.3 2378.5 L552.1 2394.8 L557.5 2403.9 L582.9 2405.7 L599.1 2415.4"/>
</g>
<path d="M191.4 2342.4 Q394.7 2333.4 598.1 2341.6 L586.5 2760.2 Q394.7 2751.1 203.0 2759.1 Z" fill="none" stroke="#262626" stroke-width="2.6" stroke-linejoin="miter"/>
<text x="177.7" y="2381.1" class="tk" text-anchor="end">15.0<tspan font-size="17" dy="-9" dx="1.5">°</tspan><tspan dy="9" dx="3"> S</tspan></text>
<text x="183.1" y="2589.1" class="tk" text-anchor="end">20.0<tspan font-size="17" dy="-9" dx="1.5">°</tspan><tspan dy="9" dx="3"> S</tspan></text>
<text x="305.2" y="2829.8" class="tk" text-anchor="middle">130.0<tspan font-size="17" dy="-9" dx="1.5">°</tspan><tspan dy="9" dx="3"> E</tspan></text>
<text x="491.5" y="2829.8" class="tk" text-anchor="middle">135.0<tspan font-size="17" dy="-9" dx="1.5">°</tspan><tspan dy="9" dx="3"> E</tspan></text>
</g>
<g transform="translate(1114.5,556.5)">
<clipPath id="cf23"><path d="M191.4 2342.4 Q394.7 2333.4 598.1 2341.6 L586.5 2760.2 Q394.7 2751.1 203.0 2759.1 Z"/></clipPath>
<g clip-path="url(#cf23)" stroke="#c4c4c4" stroke-width="1.3" stroke-dasharray="1.5 3" fill="none" opacity="1">
<path d="M295.6 2338.4 L300 2759.1"/>
<path d="M394 2338.4 L394 2759.1"/>
<path d="M495.3 2338.4 L491.4 2759.1"/>
<path d="M189.4 2365.4 L394.7 2361.4 L600.1 2365.4"/>
<path d="M189.4 2469.2 L394.7 2465.2 L600.1 2469.2"/>
<path d="M189.4 2572.4 L394.7 2568.4 L600.1 2572.4"/>
<path d="M189.4 2675.4 L394.7 2671.4 L600.1 2675.4"/>
</g>
<g clip-path="url(#cf23)">
<g filter="url(#cm63)">
<rect x="189.4" y="2333.6" width="410.7" height="430.6" fill="#464646"/>
<g filter="url(#blob)">
<polygon points="344.7,2338.3 602.8,2338.3 597.6,2473 524.3,2577.7 434.5,2637.5 374.6,2622.6 344.7,2487.9" fill="#575757"/>
<polygon points="195.1,2413.1 329.8,2450.5 344.7,2637.5 202.6,2637.5" fill="#404040" opacity="0.7"/>
</g>
<g filter="url(#mid)">
<ellipse cx="249.7" cy="2673.4" rx="5.2" ry="5.2" fill="#838383"/>
</g>
</g>
<ellipse cx="247.1" cy="2418.3" rx="5.1" ry="13" fill="#ffffff" transform="rotate(18 247.1 2418.3)"/>
<polygon points="208.4,2340.5 221.1,2373.1 237.4,2360.4 250,2356.8 281.9,2371.3 288.7,2355.7 271,2340.5" fill="#ffffff"/>
<polygon points="527.5,2338.7 521.4,2360.4 541.3,2378.5 552.1,2394.8 557.5,2403.9 582.9,2405.7 599.1,2415.4 604.6,2415.4 604.6,2335.1" fill="#ffffff"/>
</g>
<g clip-path="url(#cf23)" stroke="#8a8f96" stroke-width="1.2" stroke-dasharray="1.5 3" fill="none" opacity="0.3">
<path d="M295.6 2338.4 L300 2759.1"/>
<path d="M394 2338.4 L394 2759.1"/>
<path d="M495.3 2338.4 L491.4 2759.1"/>
<path d="M189.4 2365.4 L394.7 2361.4 L600.1 2365.4"/>
<path d="M189.4 2469.2 L394.7 2465.2 L600.1 2469.2"/>
<path d="M189.4 2572.4 L394.7 2568.4 L600.1 2572.4"/>
<path d="M189.4 2675.4 L394.7 2671.4 L600.1 2675.4"/>
</g>
<g clip-path="url(#cf23)" fill="none" stroke="#2e2e2e" stroke-width="1.6" stroke-linejoin="round">
<path d="M208.4 2340.5 L221.1 2373.1 L237.4 2360.4 L250 2356.8 L281.9 2371.3 L288.7 2355.7 L271 2340.5"/>
<path d="M527.5 2338.7 L521.4 2360.4 L541.3 2378.5 L552.1 2394.8 L557.5 2403.9 L582.9 2405.7 L599.1 2415.4"/>
</g>
<path d="M191.4 2342.4 Q394.7 2333.4 598.1 2341.6 L586.5 2760.2 Q394.7 2751.1 203.0 2759.1 Z" fill="none" stroke="#262626" stroke-width="2.6" stroke-linejoin="miter"/>
<text x="177.7" y="2381.1" class="tk" text-anchor="end">15.0<tspan font-size="17" dy="-9" dx="1.5">°</tspan><tspan dy="9" dx="3"> S</tspan></text>
<text x="183.1" y="2589.1" class="tk" text-anchor="end">20.0<tspan font-size="17" dy="-9" dx="1.5">°</tspan><tspan dy="9" dx="3"> S</tspan></text>
<text x="305.2" y="2829.8" class="tk" text-anchor="middle">130.0<tspan font-size="17" dy="-9" dx="1.5">°</tspan><tspan dy="9" dx="3"> E</tspan></text>
<text x="491.5" y="2829.8" class="tk" text-anchor="middle">135.0<tspan font-size="17" dy="-9" dx="1.5">°</tspan><tspan dy="9" dx="3"> E</tspan></text>
</g>
<g transform="translate(1671.5,556.5)">
<clipPath id="cf24"><path d="M191.4 2342.4 Q394.7 2333.4 598.1 2341.6 L586.5 2760.2 Q394.7 2751.1 203.0 2759.1 Z"/></clipPath>
<g clip-path="url(#cf24)" stroke="#c4c4c4" stroke-width="1.3" stroke-dasharray="1.5 3" fill="none" opacity="1">
<path d="M295.6 2338.4 L300 2759.1"/>
<path d="M394 2338.4 L394 2759.1"/>
<path d="M495.3 2338.4 L491.4 2759.1"/>
<path d="M189.4 2365.4 L394.7 2361.4 L600.1 2365.4"/>
<path d="M189.4 2469.2 L394.7 2465.2 L600.1 2469.2"/>
<path d="M189.4 2572.4 L394.7 2568.4 L600.1 2572.4"/>
<path d="M189.4 2675.4 L394.7 2671.4 L600.1 2675.4"/>
</g>
<g clip-path="url(#cf24)">
<g filter="url(#cm64)">
<rect x="189.4" y="2333.6" width="410.7" height="430.6" fill="#717171"/>
<g filter="url(#blob)">
<polygon points="161.7,2338.3 244,2338.3 236.6,2525.3 202.9,2577.7 161.7,2577.7" fill="#7c7c7c"/>
<polygon points="408.6,2338.3 535.8,2368.2 595.6,2487.9 461,2458" fill="#656565"/>
<ellipse cx="386.2" cy="2562.7" rx="37.4" ry="67.3" fill="#666666"/>
</g>
<g filter="url(#big)">
<polygon points="296.4,2622.6 513.3,2622.6 550.7,2764.7 333.8,2772.2" fill="#858585"/>
</g>
<g filter="url(#blob)">
<ellipse cx="281.4" cy="2510.4" rx="44.9" ry="37.4" fill="#828282" opacity="0.7"/>
</g>
</g>
<ellipse cx="247.1" cy="2418.3" rx="5.1" ry="13" fill="#f4f6f9" transform="rotate(18 247.1 2418.3)"/>
<polygon points="208.4,2340.5 221.1,2373.1 237.4,2360.4 250,2356.8 281.9,2371.3 288.7,2355.7 271,2340.5" fill="#ffffff"/>
<polygon points="527.5,2338.7 521.4,2360.4 541.3,2378.5 552.1,2394.8 557.5,2403.9 582.9,2405.7 599.1,2415.4 604.6,2415.4 604.6,2335.1" fill="#ffffff"/>
</g>
<g clip-path="url(#cf24)" stroke="#8a8f96" stroke-width="1.2" stroke-dasharray="1.5 3" fill="none" opacity="0.3">
<path d="M295.6 2338.4 L300 2759.1"/>
<path d="M394 2338.4 L394 2759.1"/>
<path d="M495.3 2338.4 L491.4 2759.1"/>
<path d="M189.4 2365.4 L394.7 2361.4 L600.1 2365.4"/>
<path d="M189.4 2469.2 L394.7 2465.2 L600.1 2469.2"/>
<path d="M189.4 2572.4 L394.7 2568.4 L600.1 2572.4"/>
<path d="M189.4 2675.4 L394.7 2671.4 L600.1 2675.4"/>
</g>
<g clip-path="url(#cf24)" fill="none" stroke="#2e2e2e" stroke-width="1.6" stroke-linejoin="round">
<path d="M208.4 2340.5 L221.1 2373.1 L237.4 2360.4 L250 2356.8 L281.9 2371.3 L288.7 2355.7 L271 2340.5"/>
<path d="M527.5 2338.7 L521.4 2360.4 L541.3 2378.5 L552.1 2394.8 L557.5 2403.9 L582.9 2405.7 L599.1 2415.4"/>
</g>
<path d="M191.4 2342.4 Q394.7 2333.4 598.1 2341.6 L586.5 2760.2 Q394.7 2751.1 203.0 2759.1 Z" fill="none" stroke="#262626" stroke-width="2.6" stroke-linejoin="miter"/>
<text x="177.7" y="2381.1" class="tk" text-anchor="end">15.0<tspan font-size="17" dy="-9" dx="1.5">°</tspan><tspan dy="9" dx="3"> S</tspan></text>
<text x="183.1" y="2589.1" class="tk" text-anchor="end">20.0<tspan font-size="17" dy="-9" dx="1.5">°</tspan><tspan dy="9" dx="3"> S</tspan></text>
<text x="305.2" y="2829.8" class="tk" text-anchor="middle">130.0<tspan font-size="17" dy="-9" dx="1.5">°</tspan><tspan dy="9" dx="3"> E</tspan></text>
<text x="491.5" y="2829.8" class="tk" text-anchor="middle">135.0<tspan font-size="17" dy="-9" dx="1.5">°</tspan><tspan dy="9" dx="3"> E</tspan></text>
</g>
<text transform="translate(54.5,309.3) rotate(-90)" class="tt" text-anchor="middle" textLength="151.4" lengthAdjust="spacingAndGlyphs">SEV | IBE</text>
<text transform="translate(54.5,862.4) rotate(-90)" class="tt" text-anchor="middle" textLength="181.5" lengthAdjust="spacingAndGlyphs">SEV | WAF</text>
<text transform="translate(54.5,1412.6) rotate(-90)" class="tt" text-anchor="middle" textLength="183.8" lengthAdjust="spacingAndGlyphs">SEV | NAM</text>
<text transform="translate(54.5,1980.5) rotate(-90)" class="tt" text-anchor="middle" textLength="186" lengthAdjust="spacingAndGlyphs">GOE | SGP</text>
<text transform="translate(54.5,2542) rotate(-90)" class="tt" text-anchor="middle" textLength="188.3" lengthAdjust="spacingAndGlyphs">MTS | AUS</text>
<text transform="translate(54.5,3100) rotate(-90)" class="tt" text-anchor="middle" textLength="208.7" lengthAdjust="spacingAndGlyphs">HMW | AUS</text>
<rect x="172.3" y="3431.7" width="31.1" height="65.8" fill="#ffffcc"/>
<rect x="202.8" y="3431.7" width="31.1" height="65.8" fill="#ffffb2"/>
<rect x="233.3" y="3431.7" width="31.1" height="65.8" fill="#fff0a3"/>
<rect x="263.8" y="3431.7" width="31.1" height="65.8" fill="#fee288"/>
<rect x="294.3" y="3431.7" width="31.1" height="65.8" fill="#fed26e"/>
<rect x="324.8" y="3431.7" width="31.1" height="65.8" fill="#febd59"/>
<rect x="355.3" y="3431.7" width="31.1" height="65.8" fill="#fea244"/>
<rect x="385.8" y="3431.7" width="31.1" height="65.8" fill="#fd7c35"/>
<rect x="416.3" y="3431.7" width="31.1" height="65.8" fill="#fc522b"/>
<rect x="446.8" y="3431.7" width="31.1" height="65.8" fill="#ef3a21"/>
<rect x="477.3" y="3431.7" width="31.1" height="65.8" fill="#e02020"/>
<rect x="507.8" y="3431.7" width="31.1" height="65.8" fill="#c20526"/>
<rect x="538.3" y="3431.7" width="31.1" height="65.8" fill="#a90026"/>
<rect x="568.8" y="3431.7" width="30.5" height="65.8" fill="#800026"/>
<rect x="172.3" y="3431.7" width="427" height="65.8" fill="none" stroke="#3a3a3a" stroke-width="1.2"/>
<text x="172.3" y="3547" class="cb" text-anchor="middle">0</text>
<path d="M233.3 3497.5v-5" stroke="#3a3a3a" stroke-width="1.2"/>
<text x="233.3" y="3547" class="cb" text-anchor="middle">1</text>
<path d="M294.3 3497.5v-5" stroke="#3a3a3a" stroke-width="1.2"/>
<text x="294.3" y="3547" class="cb" text-anchor="middle">2</text>
<path d="M355.3 3497.5v-5" stroke="#3a3a3a" stroke-width="1.2"/>
<text x="355.3" y="3547" class="cb" text-anchor="middle">3</text>
<path d="M416.3 3497.5v-5" stroke="#3a3a3a" stroke-width="1.2"/>
<text x="416.3" y="3547" class="cb" text-anchor="middle">4</text>
<path d="M477.3 3497.5v-5" stroke="#3a3a3a" stroke-width="1.2"/>
<text x="477.3" y="3547" class="cb" text-anchor="middle">5</text>
<path d="M538.3 3497.5v-5" stroke="#3a3a3a" stroke-width="1.2"/>
<text x="538.3" y="3547" class="cb" text-anchor="middle">6</text>
<text x="599.3" y="3547" class="cb" text-anchor="middle">7</text>
<rect x="704.6" y="3431.7" width="29" height="65.8" fill="#0a3163"/>
<rect x="733" y="3431.7" width="29" height="65.8" fill="#2464ac"/>
<rect x="761.4" y="3431.7" width="29" height="65.8" fill="#1370b6"/>
<rect x="789.9" y="3431.7" width="29" height="65.8" fill="#3f8fc4"/>
<rect x="818.3" y="3431.7" width="29" height="65.8" fill="#66a8d0"/>
<rect x="846.7" y="3431.7" width="29" height="65.8" fill="#8fc3de"/>
<rect x="875.1" y="3431.7" width="29" height="65.8" fill="#cfe3f0"/>
<rect x="903.5" y="3431.7" width="29" height="65.8" fill="#f6f6f6"/>
<rect x="932" y="3431.7" width="29" height="65.8" fill="#fddcc8"/>
<rect x="960.4" y="3431.7" width="29" height="65.8" fill="#f5a98a"/>
<rect x="988.8" y="3431.7" width="29" height="65.8" fill="#f18e6a"/>
<rect x="1017.2" y="3431.7" width="29" height="65.8" fill="#db6551"/>
<rect x="1045.6" y="3431.7" width="29" height="65.8" fill="#cb0b23"/>
<rect x="1074.1" y="3431.7" width="29" height="65.8" fill="#b4172c"/>
<rect x="1102.5" y="3431.7" width="28.4" height="65.8" fill="#6a0121"/>
<rect x="704.6" y="3431.7" width="426.3" height="65.8" fill="none" stroke="#3a3a3a" stroke-width="1.2"/>
<text x="704.6" y="3547" class="cb" text-anchor="middle">-3</text>
<path d="M775.7 3497.5v-5" stroke="#3a3a3a" stroke-width="1.2"/>
<text x="775.7" y="3547" class="cb" text-anchor="middle">-2</text>
<path d="M846.7 3497.5v-5" stroke="#3a3a3a" stroke-width="1.2"/>
<text x="846.7" y="3547" class="cb" text-anchor="middle">-1</text>
<path d="M917.8 3497.5v-5" stroke="#3a3a3a" stroke-width="1.2"/>
<text x="917.8" y="3547" class="cb" text-anchor="middle">0</text>
<path d="M988.8 3497.5v-5" stroke="#3a3a3a" stroke-width="1.2"/>
<text x="988.8" y="3547" class="cb" text-anchor="middle">1</text>
<path d="M1059.9 3497.5v-5" stroke="#3a3a3a" stroke-width="1.2"/>
<text x="1059.9" y="3547" class="cb" text-anchor="middle">2</text>
<text x="1130.9" y="3547" class="cb" text-anchor="middle">3</text>
<rect x="1285.2" y="3430.8" width="31.1" height="66.2" fill="#ffffcc"/>
<rect x="1315.7" y="3430.8" width="31.1" height="66.2" fill="#ffffb2"/>
<rect x="1346.3" y="3430.8" width="31.1" height="66.2" fill="#fff0a3"/>
<rect x="1376.8" y="3430.8" width="31.1" height="66.2" fill="#fee288"/>
<rect x="1407.4" y="3430.8" width="31.1" height="66.2" fill="#fed26e"/>
<rect x="1437.9" y="3430.8" width="31.1" height="66.2" fill="#febd59"/>
<rect x="1468.5" y="3430.8" width="31.1" height="66.2" fill="#fea244"/>
<rect x="1499" y="3430.8" width="31.1" height="66.2" fill="#fd7c35"/>
<rect x="1529.5" y="3430.8" width="31.1" height="66.2" fill="#fc522b"/>
<rect x="1560.1" y="3430.8" width="31.1" height="66.2" fill="#ef3a21"/>
<rect x="1590.6" y="3430.8" width="31.1" height="66.2" fill="#e02020"/>
<rect x="1621.2" y="3430.8" width="31.1" height="66.2" fill="#c20526"/>
<rect x="1651.7" y="3430.8" width="31.1" height="66.2" fill="#a90026"/>
<rect x="1682.3" y="3430.8" width="30.5" height="66.2" fill="#800026"/>
<rect x="1285.2" y="3430.8" width="427.6" height="66.2" fill="none" stroke="#3a3a3a" stroke-width="1.2"/>
<text x="1285.2" y="3547" class="cb" text-anchor="middle">0</text>
<path d="M1346.3 3497v-5" stroke="#3a3a3a" stroke-width="1.2"/>
<text x="1346.3" y="3547" class="cb" text-anchor="middle">1</text>
<path d="M1407.4 3497v-5" stroke="#3a3a3a" stroke-width="1.2"/>
<text x="1407.4" y="3547" class="cb" text-anchor="middle">2</text>
<path d="M1468.5 3497v-5" stroke="#3a3a3a" stroke-width="1.2"/>
<text x="1468.5" y="3547" class="cb" text-anchor="middle">3</text>
<path d="M1529.5 3497v-5" stroke="#3a3a3a" stroke-width="1.2"/>
<text x="1529.5" y="3547" class="cb" text-anchor="middle">4</text>
<path d="M1590.6 3497v-5" stroke="#3a3a3a" stroke-width="1.2"/>
<text x="1590.6" y="3547" class="cb" text-anchor="middle">5</text>
<path d="M1651.7 3497v-5" stroke="#3a3a3a" stroke-width="1.2"/>
<text x="1651.7" y="3547" class="cb" text-anchor="middle">6</text>
<text x="1712.8" y="3547" class="cb" text-anchor="middle">7</text>
<rect x="1838.4" y="3428" width="29.1" height="66.4" fill="#0a3163"/>
<rect x="1866.9" y="3428" width="29.1" height="66.4" fill="#2464ac"/>
<rect x="1895.4" y="3428" width="29.1" height="66.4" fill="#1370b6"/>
<rect x="1923.9" y="3428" width="29.1" height="66.4" fill="#3f8fc4"/>
<rect x="1952.4" y="3428" width="29.1" height="66.4" fill="#66a8d0"/>
<rect x="1980.9" y="3428" width="29.1" height="66.4" fill="#8fc3de"/>
<rect x="2009.4" y="3428" width="29.1" height="66.4" fill="#cfe3f0"/>
<rect x="2037.9" y="3428" width="29.1" height="66.4" fill="#f6f6f6"/>
<rect x="2066.5" y="3428" width="29.1" height="66.4" fill="#fddcc8"/>
<rect x="2095" y="3428" width="29.1" height="66.4" fill="#f5a98a"/>
<rect x="2123.5" y="3428" width="29.1" height="66.4" fill="#f18e6a"/>
<rect x="2152" y="3428" width="29.1" height="66.4" fill="#db6551"/>
<rect x="2180.5" y="3428" width="29.1" height="66.4" fill="#cb0b23"/>
<rect x="2209" y="3428" width="29.1" height="66.4" fill="#b4172c"/>
<rect x="2237.5" y="3428" width="28.5" height="66.4" fill="#6a0121"/>
<rect x="1838.4" y="3428" width="427.6" height="66.4" fill="none" stroke="#3a3a3a" stroke-width="1.2"/>
<text x="1838.4" y="3544" class="cb" text-anchor="middle">-3</text>
<path d="M1909.7 3494.4v-5" stroke="#3a3a3a" stroke-width="1.2"/>
<text x="1909.7" y="3544" class="cb" text-anchor="middle">-2</text>
<path d="M1980.9 3494.4v-5" stroke="#3a3a3a" stroke-width="1.2"/>
<text x="1980.9" y="3544" class="cb" text-anchor="middle">-1</text>
<path d="M2052.2 3494.4v-5" stroke="#3a3a3a" stroke-width="1.2"/>
<text x="2052.2" y="3544" class="cb" text-anchor="middle">0</text>
<path d="M2123.5 3494.4v-5" stroke="#3a3a3a" stroke-width="1.2"/>
<text x="2123.5" y="3544" class="cb" text-anchor="middle">1</text>
<path d="M2194.7 3494.4v-5" stroke="#3a3a3a" stroke-width="1.2"/>
<text x="2194.7" y="3544" class="cb" text-anchor="middle">2</text>
<text x="2266" y="3544" class="cb" text-anchor="middle">3</text>
</svg></body></html>
